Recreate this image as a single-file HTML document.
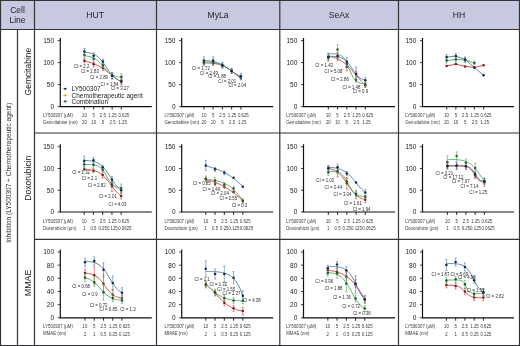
<!DOCTYPE html>
<html><head><meta charset="utf-8"><style>
html,body{margin:0;padding:0;background:#fff;width:520px;height:346px;overflow:hidden}
svg{display:block;filter:blur(0.3px)}
text{font-family:"Liberation Sans",sans-serif}
</style></head><body>
<svg width="520" height="346" viewBox="0 0 520 346">
<rect x="0" y="0" width="520" height="29.5" fill="#c7c9e1"/>
<path d="M60.3,38.1 V106.6 H151.8" fill="none" stroke="#111" stroke-width="1.2"/>
<line x1="57.699999999999996" y1="106.60" x2="60.3" y2="106.60" stroke="#111" stroke-width="0.8"/>
<text x="54.099999999999994" y="108.95" text-anchor="end" font-size="6.5" fill="#222">0</text>
<line x1="57.699999999999996" y1="84.60" x2="60.3" y2="84.60" stroke="#111" stroke-width="0.8"/>
<text x="54.099999999999994" y="86.95" text-anchor="end" font-size="6.5" fill="#222">50</text>
<line x1="57.699999999999996" y1="62.60" x2="60.3" y2="62.60" stroke="#111" stroke-width="0.8"/>
<text x="54.099999999999994" y="64.95" text-anchor="end" font-size="6.5" fill="#222">100</text>
<line x1="57.699999999999996" y1="40.60" x2="60.3" y2="40.60" stroke="#111" stroke-width="0.8"/>
<text x="54.099999999999994" y="42.95" text-anchor="end" font-size="6.5" fill="#222">150</text>
<line x1="84.40" y1="106.6" x2="84.40" y2="109.5" stroke="#111" stroke-width="0.9"/>
<line x1="93.65" y1="106.6" x2="93.65" y2="109.5" stroke="#111" stroke-width="0.9"/>
<line x1="102.90" y1="106.6" x2="102.90" y2="109.5" stroke="#111" stroke-width="0.9"/>
<line x1="112.15" y1="106.6" x2="112.15" y2="109.5" stroke="#111" stroke-width="0.9"/>
<line x1="121.40" y1="106.6" x2="121.40" y2="109.5" stroke="#111" stroke-width="0.9"/>
<text transform="translate(43.00,117.20) scale(0.877,1)" font-size="5.0" fill="#383838">LY500307 (µM)</text>
<text transform="translate(43.00,124.20) scale(0.877,1)" font-size="5.0" fill="#383838">Gemcitabine (nm)</text>
<text transform="translate(84.40,117.20) scale(0.95,1)" font-size="4.6" fill="#383838" text-anchor="middle">10</text>
<text transform="translate(84.40,124.40) scale(0.95,1)" font-size="4.6" fill="#383838" text-anchor="middle">20</text>
<text transform="translate(93.65,117.20) scale(0.95,1)" font-size="4.6" fill="#383838" text-anchor="middle">5</text>
<text transform="translate(93.65,124.40) scale(0.95,1)" font-size="4.6" fill="#383838" text-anchor="middle">10</text>
<text transform="translate(102.90,117.20) scale(0.95,1)" font-size="4.6" fill="#383838" text-anchor="middle">2.5</text>
<text transform="translate(102.90,124.40) scale(0.95,1)" font-size="4.6" fill="#383838" text-anchor="middle">5</text>
<text transform="translate(112.55,117.20) scale(0.95,1)" font-size="4.6" fill="#383838" text-anchor="middle">1.25</text>
<text transform="translate(112.55,124.40) scale(0.95,1)" font-size="4.6" fill="#383838" text-anchor="middle">2.5</text>
<text transform="translate(118.40,117.20) scale(0.95,1)" font-size="4.6" fill="#383838">0.625</text>
<text transform="translate(118.40,124.40) scale(0.95,1)" font-size="4.6" fill="#383838">1.25</text>
<path d="M84.40,61.14 L85.33,61.31 L86.25,61.50 L87.18,61.70 L88.10,61.93 L89.03,62.16 L89.95,62.42 L90.88,62.70 L91.80,63.00 L92.73,63.32 L93.65,63.66 L94.58,64.03 L95.50,64.43 L96.43,64.85 L97.35,65.29 L98.28,65.77 L99.20,66.27 L100.12,66.79 L101.05,67.35 L101.98,67.92 L102.90,68.53 L103.83,69.15 L104.75,69.80 L105.68,70.46 L106.60,71.15 L107.53,71.85 L108.45,72.56 L109.38,73.28 L110.30,74.00 L111.23,74.73 L112.15,75.46 L113.08,76.18 L114.00,76.90 L114.93,77.60 L115.85,78.30 L116.78,78.97 L117.70,79.63 L118.62,80.27 L119.55,80.89 L120.47,81.48 L121.40,82.05" fill="none" stroke="#d03a34" stroke-width="0.9"/>
<path d="M84.40,58.84 V62.84 M83.40,58.84 h2 M83.40,62.84 h2" stroke="#d03a34" stroke-width="0.6" fill="none"/>
<circle cx="84.40" cy="60.84" r="1.25" fill="#7a1a22"/>
<path d="M93.65,61.86 V66.86 M92.65,61.86 h2 M92.65,66.86 h2" stroke="#d03a34" stroke-width="0.6" fill="none"/>
<circle cx="93.65" cy="64.36" r="1.25" fill="#7a1a22"/>
<path d="M102.90,65.38 V70.38 M101.90,65.38 h2 M101.90,70.38 h2" stroke="#d03a34" stroke-width="0.6" fill="none"/>
<circle cx="102.90" cy="67.88" r="1.25" fill="#7a1a22"/>
<path d="M112.15,72.80 V78.80 M111.15,72.80 h2 M111.15,78.80 h2" stroke="#d03a34" stroke-width="0.6" fill="none"/>
<circle cx="112.15" cy="75.80" r="1.25" fill="#7a1a22"/>
<path d="M121.40,78.96 V84.96 M120.40,78.96 h2 M120.40,84.96 h2" stroke="#d03a34" stroke-width="0.6" fill="none"/>
<circle cx="121.40" cy="81.96" r="1.25" fill="#7a1a22"/>
<path d="M84.40,55.85 L85.33,55.93 L86.25,56.03 L87.18,56.14 L88.10,56.28 L89.03,56.45 L89.95,56.66 L90.88,56.90 L91.80,57.19 L92.73,57.53 L93.65,57.93 L94.58,58.40 L95.50,58.94 L96.43,59.56 L97.35,60.27 L98.28,61.06 L99.20,61.93 L100.12,62.88 L101.05,63.89 L101.98,64.95 L102.90,66.05 L103.83,67.15 L104.75,68.25 L105.68,69.31 L106.60,70.33 L107.53,71.28 L108.45,72.15 L109.38,72.94 L110.30,73.65 L111.23,74.27 L112.15,74.81 L113.08,75.28 L114.00,75.68 L114.93,76.02 L115.85,76.31 L116.78,76.55 L117.70,76.76 L118.62,76.93 L119.55,77.07 L120.47,77.19 L121.40,77.28" fill="none" stroke="#48ac58" stroke-width="0.9"/>
<path d="M84.40,52.62 V57.62 M83.40,52.62 h2 M83.40,57.62 h2" stroke="#48ac58" stroke-width="0.6" fill="none"/>
<circle cx="84.40" cy="55.12" r="1.25" fill="#1e5a30"/>
<path d="M93.65,56.08 V62.08 M92.65,56.08 h2 M92.65,62.08 h2" stroke="#48ac58" stroke-width="0.6" fill="none"/>
<circle cx="93.65" cy="59.08" r="1.25" fill="#1e5a30"/>
<path d="M102.90,62.74 V67.74 M101.90,62.74 h2 M101.90,67.74 h2" stroke="#48ac58" stroke-width="0.6" fill="none"/>
<circle cx="102.90" cy="65.24" r="1.25" fill="#1e5a30"/>
<path d="M112.15,72.80 V78.80 M111.15,72.80 h2 M111.15,78.80 h2" stroke="#48ac58" stroke-width="0.6" fill="none"/>
<circle cx="112.15" cy="75.80" r="1.25" fill="#1e5a30"/>
<path d="M121.40,73.68 V79.68 M120.40,73.68 h2 M120.40,79.68 h2" stroke="#48ac58" stroke-width="0.6" fill="none"/>
<circle cx="121.40" cy="76.68" r="1.25" fill="#1e5a30"/>
<path d="M84.40,52.29 L85.33,52.38 L86.25,52.47 L87.18,52.59 L88.10,52.73 L89.03,52.89 L89.95,53.09 L90.88,53.32 L91.80,53.59 L92.73,53.90 L93.65,54.27 L94.58,54.70 L95.50,55.20 L96.43,55.77 L97.35,56.43 L98.28,57.17 L99.20,58.01 L100.12,58.94 L101.05,59.97 L101.98,61.09 L102.90,62.30 L103.83,63.58 L104.75,64.91 L105.68,66.29 L106.60,67.68 L107.53,69.07 L108.45,70.43 L109.38,71.75 L110.30,73.00 L111.23,74.17 L112.15,75.26 L113.08,76.25 L114.00,77.14 L114.93,77.94 L115.85,78.65 L116.78,79.27 L117.70,79.81 L118.62,80.28 L119.55,80.69 L120.47,81.04 L121.40,81.33" fill="none" stroke="#4777a6" stroke-width="0.9"/>
<path d="M84.40,48.38 V54.38 M83.40,48.38 h2 M83.40,54.38 h2" stroke="#4777a6" stroke-width="0.6" fill="none"/>
<circle cx="84.40" cy="51.38" r="1.25" fill="#1b2740"/>
<path d="M93.65,52.69 V58.69 M92.65,52.69 h2 M92.65,58.69 h2" stroke="#4777a6" stroke-width="0.6" fill="none"/>
<circle cx="93.65" cy="55.69" r="1.25" fill="#1b2740"/>
<path d="M102.90,59.00 V64.00 M101.90,59.00 h2 M101.90,64.00 h2" stroke="#4777a6" stroke-width="0.6" fill="none"/>
<circle cx="102.90" cy="61.50" r="1.25" fill="#1b2740"/>
<path d="M112.15,72.80 V78.80 M111.15,72.80 h2 M111.15,78.80 h2" stroke="#4777a6" stroke-width="0.6" fill="none"/>
<circle cx="112.15" cy="75.80" r="1.25" fill="#1b2740"/>
<path d="M121.40,78.08 V84.08 M120.40,78.08 h2 M120.40,84.08 h2" stroke="#4777a6" stroke-width="0.6" fill="none"/>
<circle cx="121.40" cy="81.08" r="1.25" fill="#1b2740"/>
<text transform="translate(74.00,67.50) scale(0.84,1)" font-size="5.2" fill="#2a2a2a">CI = 2.2</text>
<text transform="translate(81.00,72.70) scale(0.84,1)" font-size="5.2" fill="#2a2a2a">CI = 2.83</text>
<text transform="translate(90.20,78.50) scale(0.84,1)" font-size="5.2" fill="#2a2a2a">CI = 2.89</text>
<text transform="translate(100.60,85.80) scale(0.84,1)" font-size="5.2" fill="#2a2a2a">CI = 1.84</text>
<text transform="translate(111.00,90.30) scale(0.84,1)" font-size="5.2" fill="#2a2a2a">CI = 3.27</text>
<path d="M181.7,38.1 V106.6 H273.2" fill="none" stroke="#111" stroke-width="1.2"/>
<line x1="179.1" y1="106.60" x2="181.7" y2="106.60" stroke="#111" stroke-width="0.8"/>
<text x="175.5" y="108.95" text-anchor="end" font-size="6.5" fill="#222">0</text>
<line x1="179.1" y1="84.60" x2="181.7" y2="84.60" stroke="#111" stroke-width="0.8"/>
<text x="175.5" y="86.95" text-anchor="end" font-size="6.5" fill="#222">50</text>
<line x1="179.1" y1="62.60" x2="181.7" y2="62.60" stroke="#111" stroke-width="0.8"/>
<text x="175.5" y="64.95" text-anchor="end" font-size="6.5" fill="#222">100</text>
<line x1="179.1" y1="40.60" x2="181.7" y2="40.60" stroke="#111" stroke-width="0.8"/>
<text x="175.5" y="42.95" text-anchor="end" font-size="6.5" fill="#222">150</text>
<line x1="203.90" y1="106.6" x2="203.90" y2="109.5" stroke="#111" stroke-width="0.9"/>
<line x1="213.15" y1="106.6" x2="213.15" y2="109.5" stroke="#111" stroke-width="0.9"/>
<line x1="222.40" y1="106.6" x2="222.40" y2="109.5" stroke="#111" stroke-width="0.9"/>
<line x1="231.65" y1="106.6" x2="231.65" y2="109.5" stroke="#111" stroke-width="0.9"/>
<line x1="240.90" y1="106.6" x2="240.90" y2="109.5" stroke="#111" stroke-width="0.9"/>
<text transform="translate(164.40,117.20) scale(0.877,1)" font-size="5.0" fill="#383838">LY500307 (µM)</text>
<text transform="translate(164.40,124.20) scale(0.877,1)" font-size="5.0" fill="#383838">Gemcitabine (nm)</text>
<text transform="translate(203.90,117.20) scale(0.95,1)" font-size="4.6" fill="#383838" text-anchor="middle">10</text>
<text transform="translate(203.90,124.40) scale(0.95,1)" font-size="4.6" fill="#383838" text-anchor="middle">20</text>
<text transform="translate(213.15,117.20) scale(0.95,1)" font-size="4.6" fill="#383838" text-anchor="middle">5</text>
<text transform="translate(213.15,124.40) scale(0.95,1)" font-size="4.6" fill="#383838" text-anchor="middle">10</text>
<text transform="translate(222.40,117.20) scale(0.95,1)" font-size="4.6" fill="#383838" text-anchor="middle">2.5</text>
<text transform="translate(222.40,124.40) scale(0.95,1)" font-size="4.6" fill="#383838" text-anchor="middle">5</text>
<text transform="translate(232.05,117.20) scale(0.95,1)" font-size="4.6" fill="#383838" text-anchor="middle">1.25</text>
<text transform="translate(232.05,124.40) scale(0.95,1)" font-size="4.6" fill="#383838" text-anchor="middle">2.5</text>
<text transform="translate(237.90,117.20) scale(0.95,1)" font-size="4.6" fill="#383838">0.625</text>
<text transform="translate(237.90,124.40) scale(0.95,1)" font-size="4.6" fill="#383838">1.25</text>
<path d="M203.90,62.82 L204.83,62.85 L205.75,62.88 L206.68,62.92 L207.60,62.96 L208.53,63.01 L209.45,63.07 L210.38,63.13 L211.30,63.21 L212.22,63.30 L213.15,63.39 L214.08,63.51 L215.00,63.64 L215.93,63.78 L216.85,63.95 L217.78,64.14 L218.70,64.35 L219.62,64.59 L220.55,64.86 L221.47,65.16 L222.40,65.50 L223.33,65.88 L224.25,66.29 L225.18,66.75 L226.10,67.24 L227.03,67.78 L227.95,68.36 L228.88,68.97 L229.80,69.62 L230.72,70.30 L231.65,71.01 L232.58,71.74 L233.50,72.48 L234.43,73.23 L235.35,73.97 L236.28,74.70 L237.20,75.42 L238.12,76.11 L239.05,76.77 L239.97,77.40 L240.90,77.99" fill="none" stroke="#d03a34" stroke-width="0.9"/>
<path d="M203.90,61.04 V65.04 M202.90,61.04 h2 M202.90,65.04 h2" stroke="#d03a34" stroke-width="0.6" fill="none"/>
<circle cx="203.90" cy="63.04" r="1.25" fill="#7a1a22"/>
<path d="M213.15,61.04 V65.04 M212.15,61.04 h2 M212.15,65.04 h2" stroke="#d03a34" stroke-width="0.6" fill="none"/>
<circle cx="213.15" cy="63.04" r="1.25" fill="#7a1a22"/>
<path d="M222.40,63.68 V67.68 M221.40,63.68 h2 M221.40,67.68 h2" stroke="#d03a34" stroke-width="0.6" fill="none"/>
<circle cx="222.40" cy="65.68" r="1.25" fill="#7a1a22"/>
<path d="M231.65,68.96 V72.96 M230.65,68.96 h2 M230.65,72.96 h2" stroke="#d03a34" stroke-width="0.6" fill="none"/>
<circle cx="231.65" cy="70.96" r="1.25" fill="#7a1a22"/>
<path d="M240.90,76.00 V80.00 M239.90,76.00 h2 M239.90,80.00 h2" stroke="#d03a34" stroke-width="0.6" fill="none"/>
<circle cx="240.90" cy="78.00" r="1.25" fill="#7a1a22"/>
<path d="M203.90,61.91 L204.83,61.94 L205.75,61.98 L206.68,62.02 L207.60,62.07 L208.53,62.12 L209.45,62.19 L210.38,62.26 L211.30,62.35 L212.22,62.45 L213.15,62.56 L214.08,62.69 L215.00,62.84 L215.93,63.01 L216.85,63.21 L217.78,63.43 L218.70,63.68 L219.62,63.97 L220.55,64.29 L221.47,64.64 L222.40,65.04 L223.33,65.47 L224.25,65.95 L225.18,66.47 L226.10,67.03 L227.03,67.63 L227.95,68.26 L228.88,68.93 L229.80,69.61 L230.72,70.32 L231.65,71.03 L232.58,71.74 L233.50,72.45 L234.43,73.14 L235.35,73.81 L236.28,74.45 L237.20,75.06 L238.12,75.63 L239.05,76.17 L239.97,76.66 L240.90,77.10" fill="none" stroke="#48ac58" stroke-width="0.9"/>
<path d="M203.90,59.16 V65.16 M202.90,59.16 h2 M202.90,65.16 h2" stroke="#48ac58" stroke-width="0.6" fill="none"/>
<circle cx="203.90" cy="62.16" r="1.25" fill="#1e5a30"/>
<path d="M213.15,59.16 V65.16 M212.15,59.16 h2 M212.15,65.16 h2" stroke="#48ac58" stroke-width="0.6" fill="none"/>
<circle cx="213.15" cy="62.16" r="1.25" fill="#1e5a30"/>
<path d="M222.40,63.24 V67.24 M221.40,63.24 h2 M221.40,67.24 h2" stroke="#48ac58" stroke-width="0.6" fill="none"/>
<circle cx="222.40" cy="65.24" r="1.25" fill="#1e5a30"/>
<path d="M231.65,68.96 V72.96 M230.65,68.96 h2 M230.65,72.96 h2" stroke="#48ac58" stroke-width="0.6" fill="none"/>
<circle cx="231.65" cy="70.96" r="1.25" fill="#1e5a30"/>
<path d="M240.90,75.12 V79.12 M239.90,75.12 h2 M239.90,79.12 h2" stroke="#48ac58" stroke-width="0.6" fill="none"/>
<circle cx="240.90" cy="77.12" r="1.25" fill="#1e5a30"/>
<path d="M203.90,60.46 L204.83,60.51 L205.75,60.57 L206.68,60.64 L207.60,60.72 L208.53,60.81 L209.45,60.91 L210.38,61.03 L211.30,61.17 L212.22,61.32 L213.15,61.49 L214.08,61.69 L215.00,61.91 L215.93,62.16 L216.85,62.44 L217.78,62.75 L218.70,63.09 L219.62,63.48 L220.55,63.89 L221.47,64.35 L222.40,64.84 L223.33,65.37 L224.25,65.93 L225.18,66.53 L226.10,67.15 L227.03,67.80 L227.95,68.46 L228.88,69.13 L229.80,69.81 L230.72,70.48 L231.65,71.14 L232.58,71.79 L233.50,72.41 L234.43,73.01 L235.35,73.57 L236.28,74.10 L237.20,74.59 L238.12,75.04 L239.05,75.46 L239.97,75.84 L240.90,76.18" fill="none" stroke="#4777a6" stroke-width="0.9"/>
<path d="M203.90,56.84 V64.84 M202.90,56.84 h2 M202.90,64.84 h2" stroke="#4777a6" stroke-width="0.6" fill="none"/>
<circle cx="203.90" cy="60.84" r="1.25" fill="#1b2740"/>
<path d="M213.15,56.84 V64.84 M212.15,56.84 h2 M212.15,64.84 h2" stroke="#4777a6" stroke-width="0.6" fill="none"/>
<circle cx="213.15" cy="60.84" r="1.25" fill="#1b2740"/>
<path d="M222.40,62.24 V68.24 M221.40,62.24 h2 M221.40,68.24 h2" stroke="#4777a6" stroke-width="0.6" fill="none"/>
<circle cx="222.40" cy="65.24" r="1.25" fill="#1b2740"/>
<path d="M231.65,68.46 V73.46 M230.65,68.46 h2 M230.65,73.46 h2" stroke="#4777a6" stroke-width="0.6" fill="none"/>
<circle cx="231.65" cy="70.96" r="1.25" fill="#1b2740"/>
<path d="M240.90,73.24 V79.24 M239.90,73.24 h2 M239.90,79.24 h2" stroke="#4777a6" stroke-width="0.6" fill="none"/>
<circle cx="240.90" cy="76.24" r="1.25" fill="#1b2740"/>
<text transform="translate(192.00,69.80) scale(0.84,1)" font-size="5.2" fill="#2a2a2a">CI = 1.72</text>
<text transform="translate(200.10,74.50) scale(0.84,1)" font-size="5.2" fill="#2a2a2a">CI = 2.49</text>
<text transform="translate(208.20,77.90) scale(0.84,1)" font-size="5.2" fill="#2a2a2a">CI = 1.88</text>
<text transform="translate(218.30,82.90) scale(0.84,1)" font-size="5.2" fill="#2a2a2a">CI = 2.01</text>
<text transform="translate(228.40,87.30) scale(0.84,1)" font-size="5.2" fill="#2a2a2a">CI = 2.04</text>
<path d="M303.5,38.1 V106.6 H395.0" fill="none" stroke="#111" stroke-width="1.2"/>
<line x1="300.9" y1="106.60" x2="303.5" y2="106.60" stroke="#111" stroke-width="0.8"/>
<text x="297.3" y="108.95" text-anchor="end" font-size="6.5" fill="#222">0</text>
<line x1="300.9" y1="84.60" x2="303.5" y2="84.60" stroke="#111" stroke-width="0.8"/>
<text x="297.3" y="86.95" text-anchor="end" font-size="6.5" fill="#222">50</text>
<line x1="300.9" y1="62.60" x2="303.5" y2="62.60" stroke="#111" stroke-width="0.8"/>
<text x="297.3" y="64.95" text-anchor="end" font-size="6.5" fill="#222">100</text>
<line x1="300.9" y1="40.60" x2="303.5" y2="40.60" stroke="#111" stroke-width="0.8"/>
<text x="297.3" y="42.95" text-anchor="end" font-size="6.5" fill="#222">150</text>
<line x1="328.30" y1="106.6" x2="328.30" y2="109.5" stroke="#111" stroke-width="0.9"/>
<line x1="337.55" y1="106.6" x2="337.55" y2="109.5" stroke="#111" stroke-width="0.9"/>
<line x1="346.80" y1="106.6" x2="346.80" y2="109.5" stroke="#111" stroke-width="0.9"/>
<line x1="356.05" y1="106.6" x2="356.05" y2="109.5" stroke="#111" stroke-width="0.9"/>
<line x1="365.30" y1="106.6" x2="365.30" y2="109.5" stroke="#111" stroke-width="0.9"/>
<text transform="translate(286.20,117.20) scale(0.877,1)" font-size="5.0" fill="#383838">LY500307 (µM)</text>
<text transform="translate(286.20,124.20) scale(0.877,1)" font-size="5.0" fill="#383838">Gemcitabine (nm)</text>
<text transform="translate(328.30,117.20) scale(0.95,1)" font-size="4.6" fill="#383838" text-anchor="middle">10</text>
<text transform="translate(328.30,124.40) scale(0.95,1)" font-size="4.6" fill="#383838" text-anchor="middle">20</text>
<text transform="translate(337.55,117.20) scale(0.95,1)" font-size="4.6" fill="#383838" text-anchor="middle">5</text>
<text transform="translate(337.55,124.40) scale(0.95,1)" font-size="4.6" fill="#383838" text-anchor="middle">10</text>
<text transform="translate(346.80,117.20) scale(0.95,1)" font-size="4.6" fill="#383838" text-anchor="middle">2.5</text>
<text transform="translate(346.80,124.40) scale(0.95,1)" font-size="4.6" fill="#383838" text-anchor="middle">5</text>
<text transform="translate(356.45,117.20) scale(0.95,1)" font-size="4.6" fill="#383838" text-anchor="middle">1.25</text>
<text transform="translate(356.45,124.40) scale(0.95,1)" font-size="4.6" fill="#383838" text-anchor="middle">2.5</text>
<text transform="translate(362.30,117.20) scale(0.95,1)" font-size="4.6" fill="#383838">0.625</text>
<text transform="translate(362.30,124.40) scale(0.95,1)" font-size="4.6" fill="#383838">1.25</text>
<path d="M328.30,55.98 L329.23,56.16 L330.15,56.37 L331.07,56.59 L332.00,56.83 L332.93,57.10 L333.85,57.39 L334.78,57.71 L335.70,58.05 L336.62,58.43 L337.55,58.84 L338.48,59.28 L339.40,59.76 L340.32,60.27 L341.25,60.82 L342.18,61.42 L343.10,62.05 L344.03,62.73 L344.95,63.45 L345.88,64.21 L346.80,65.02 L347.73,65.87 L348.65,66.76 L349.57,67.68 L350.50,68.65 L351.43,69.64 L352.35,70.67 L353.28,71.72 L354.20,72.79 L355.12,73.87 L356.05,74.97 L356.98,76.07 L357.90,77.16 L358.82,78.25 L359.75,79.33 L360.68,80.39 L361.60,81.42 L362.53,82.43 L363.45,83.41 L364.38,84.35 L365.30,85.26" fill="none" stroke="#d03a34" stroke-width="0.9"/>
<path d="M328.30,53.10 V61.10 M327.30,53.10 h2 M327.30,61.10 h2" stroke="#d03a34" stroke-width="0.6" fill="none"/>
<circle cx="328.30" cy="57.10" r="1.25" fill="#7a1a22"/>
<path d="M337.55,52.44 V60.44 M336.55,52.44 h2 M336.55,60.44 h2" stroke="#d03a34" stroke-width="0.6" fill="none"/>
<circle cx="337.55" cy="56.44" r="1.25" fill="#7a1a22"/>
<path d="M346.80,63.00 V71.00 M345.80,63.00 h2 M345.80,71.00 h2" stroke="#d03a34" stroke-width="0.6" fill="none"/>
<circle cx="346.80" cy="67.00" r="1.25" fill="#7a1a22"/>
<path d="M356.05,71.04 V77.04 M355.05,71.04 h2 M355.05,77.04 h2" stroke="#d03a34" stroke-width="0.6" fill="none"/>
<circle cx="356.05" cy="74.04" r="1.25" fill="#7a1a22"/>
<path d="M365.30,83.48 V87.48 M364.30,83.48 h2 M364.30,87.48 h2" stroke="#d03a34" stroke-width="0.6" fill="none"/>
<circle cx="365.30" cy="85.48" r="1.25" fill="#7a1a22"/>
<path d="M328.30,53.68 L329.23,53.69 L330.15,53.70 L331.07,53.72 L332.00,53.75 L332.93,53.78 L333.85,53.83 L334.78,53.90 L335.70,53.99 L336.62,54.11 L337.55,54.27 L338.48,54.49 L339.40,54.78 L340.32,55.16 L341.25,55.67 L342.18,56.34 L343.10,57.19 L344.03,58.27 L344.95,59.61 L345.88,61.21 L346.80,63.08 L347.73,65.18 L348.65,67.44 L349.57,69.76 L350.50,72.03 L351.43,74.16 L352.35,76.07 L353.28,77.72 L354.20,79.09 L355.12,80.21 L356.05,81.09 L356.98,81.78 L357.90,82.31 L358.82,82.72 L359.75,83.02 L360.68,83.25 L361.60,83.42 L362.53,83.54 L363.45,83.63 L364.38,83.70 L365.30,83.75" fill="none" stroke="#48ac58" stroke-width="0.9"/>
<path d="M328.30,54.76 V60.76 M327.30,54.76 h2 M327.30,60.76 h2" stroke="#48ac58" stroke-width="0.6" fill="none"/>
<circle cx="328.30" cy="57.76" r="1.25" fill="#1e5a30"/>
<path d="M337.55,44.62 V54.62 M336.55,44.62 h2 M336.55,54.62 h2" stroke="#48ac58" stroke-width="0.6" fill="none"/>
<circle cx="337.55" cy="49.62" r="1.25" fill="#1e5a30"/>
<path d="M346.80,60.92 V66.92 M345.80,60.92 h2 M345.80,66.92 h2" stroke="#48ac58" stroke-width="0.6" fill="none"/>
<circle cx="346.80" cy="63.92" r="1.25" fill="#1e5a30"/>
<path d="M356.05,77.98 V81.98 M355.05,77.98 h2 M355.05,81.98 h2" stroke="#48ac58" stroke-width="0.6" fill="none"/>
<circle cx="356.05" cy="79.98" r="1.25" fill="#1e5a30"/>
<path d="M365.30,82.60 V86.60 M364.30,82.60 h2 M364.30,86.60 h2" stroke="#48ac58" stroke-width="0.6" fill="none"/>
<circle cx="365.30" cy="84.60" r="1.25" fill="#1e5a30"/>
<path d="M328.30,56.22 L329.23,56.24 L330.15,56.27 L331.07,56.30 L332.00,56.33 L332.93,56.38 L333.85,56.44 L334.78,56.51 L335.70,56.59 L336.62,56.70 L337.55,56.84 L338.48,57.01 L339.40,57.22 L340.32,57.47 L341.25,57.79 L342.18,58.17 L343.10,58.62 L344.03,59.17 L344.95,59.83 L345.88,60.59 L346.80,61.47 L347.73,62.48 L348.65,63.60 L349.57,64.83 L350.50,66.15 L351.43,67.52 L352.35,68.93 L353.28,70.33 L354.20,71.68 L355.12,72.97 L356.05,74.15 L356.98,75.23 L357.90,76.18 L358.82,77.02 L359.75,77.73 L360.68,78.34 L361.60,78.85 L362.53,79.28 L363.45,79.63 L364.38,79.91 L365.30,80.15" fill="none" stroke="#4777a6" stroke-width="0.9"/>
<path d="M328.30,53.88 V59.88 M327.30,53.88 h2 M327.30,59.88 h2" stroke="#4777a6" stroke-width="0.6" fill="none"/>
<circle cx="328.30" cy="56.88" r="1.25" fill="#1b2740"/>
<path d="M337.55,53.00 V59.00 M336.55,53.00 h2 M336.55,59.00 h2" stroke="#4777a6" stroke-width="0.6" fill="none"/>
<circle cx="337.55" cy="56.00" r="1.25" fill="#1b2740"/>
<path d="M346.80,57.72 V65.72 M345.80,57.72 h2 M345.80,65.72 h2" stroke="#4777a6" stroke-width="0.6" fill="none"/>
<circle cx="346.80" cy="61.72" r="1.25" fill="#1b2740"/>
<path d="M356.05,67.04 V81.04 M355.05,67.04 h2 M355.05,81.04 h2" stroke="#4777a6" stroke-width="0.6" fill="none"/>
<circle cx="356.05" cy="74.04" r="1.25" fill="#1b2740"/>
<path d="M365.30,77.70 V82.70 M364.30,77.70 h2 M364.30,82.70 h2" stroke="#4777a6" stroke-width="0.6" fill="none"/>
<circle cx="365.30" cy="80.20" r="1.25" fill="#1b2740"/>
<text transform="translate(315.20,67.20) scale(0.84,1)" font-size="5.2" fill="#2a2a2a">CI = 1.43</text>
<text transform="translate(324.60,72.80) scale(0.84,1)" font-size="5.2" fill="#2a2a2a">CI = 5.08</text>
<text transform="translate(331.00,81.20) scale(0.84,1)" font-size="5.2" fill="#2a2a2a">CI = 2.86</text>
<text transform="translate(342.60,88.60) scale(0.84,1)" font-size="5.2" fill="#2a2a2a">CI = 1.48</text>
<text transform="translate(352.70,93.20) scale(0.84,1)" font-size="5.2" fill="#2a2a2a">CI = 0.9</text>
<path d="M422.5,38.1 V106.6 H514.0" fill="none" stroke="#111" stroke-width="1.2"/>
<line x1="419.9" y1="106.60" x2="422.5" y2="106.60" stroke="#111" stroke-width="0.8"/>
<text x="416.3" y="108.95" text-anchor="end" font-size="6.5" fill="#222">0</text>
<line x1="419.9" y1="84.60" x2="422.5" y2="84.60" stroke="#111" stroke-width="0.8"/>
<text x="416.3" y="86.95" text-anchor="end" font-size="6.5" fill="#222">50</text>
<line x1="419.9" y1="62.60" x2="422.5" y2="62.60" stroke="#111" stroke-width="0.8"/>
<text x="416.3" y="64.95" text-anchor="end" font-size="6.5" fill="#222">100</text>
<line x1="419.9" y1="40.60" x2="422.5" y2="40.60" stroke="#111" stroke-width="0.8"/>
<text x="416.3" y="42.95" text-anchor="end" font-size="6.5" fill="#222">150</text>
<line x1="446.60" y1="106.6" x2="446.60" y2="109.5" stroke="#111" stroke-width="0.9"/>
<line x1="455.85" y1="106.6" x2="455.85" y2="109.5" stroke="#111" stroke-width="0.9"/>
<line x1="465.10" y1="106.6" x2="465.10" y2="109.5" stroke="#111" stroke-width="0.9"/>
<line x1="474.35" y1="106.6" x2="474.35" y2="109.5" stroke="#111" stroke-width="0.9"/>
<line x1="483.60" y1="106.6" x2="483.60" y2="109.5" stroke="#111" stroke-width="0.9"/>
<text transform="translate(405.20,117.20) scale(0.877,1)" font-size="5.0" fill="#383838">LY500307 (µM)</text>
<text transform="translate(405.20,124.20) scale(0.877,1)" font-size="5.0" fill="#383838">Gemcitabine (nm)</text>
<text transform="translate(446.60,117.20) scale(0.95,1)" font-size="4.6" fill="#383838" text-anchor="middle">10</text>
<text transform="translate(446.60,124.40) scale(0.95,1)" font-size="4.6" fill="#383838" text-anchor="middle">20</text>
<text transform="translate(455.85,117.20) scale(0.95,1)" font-size="4.6" fill="#383838" text-anchor="middle">5</text>
<text transform="translate(455.85,124.40) scale(0.95,1)" font-size="4.6" fill="#383838" text-anchor="middle">10</text>
<text transform="translate(465.10,117.20) scale(0.95,1)" font-size="4.6" fill="#383838" text-anchor="middle">2.5</text>
<text transform="translate(465.10,124.40) scale(0.95,1)" font-size="4.6" fill="#383838" text-anchor="middle">5</text>
<text transform="translate(474.75,117.20) scale(0.95,1)" font-size="4.6" fill="#383838" text-anchor="middle">1.25</text>
<text transform="translate(474.75,124.40) scale(0.95,1)" font-size="4.6" fill="#383838" text-anchor="middle">2.5</text>
<text transform="translate(480.60,117.20) scale(0.95,1)" font-size="4.6" fill="#383838">0.625</text>
<text transform="translate(480.60,124.40) scale(0.95,1)" font-size="4.6" fill="#383838">1.25</text>
<path d="M446.60,65.99 L455.85,64.10 L465.10,66.38 L474.35,67.44 L483.60,65.24" fill="none" stroke="#d03a34" stroke-width="0.9"/>
<circle cx="446.60" cy="65.99" r="1.25" fill="#7a1a22"/>
<circle cx="455.85" cy="64.10" r="1.25" fill="#7a1a22"/>
<circle cx="465.10" cy="66.38" r="1.25" fill="#7a1a22"/>
<circle cx="474.35" cy="67.44" r="1.25" fill="#7a1a22"/>
<circle cx="483.60" cy="65.24" r="1.25" fill="#7a1a22"/>
<path d="M446.60,60.62 L455.85,59.52 L465.10,59.96 L474.35,62.91" fill="none" stroke="#48ac58" stroke-width="0.9"/>
<path d="M446.60,58.12 V63.12 M445.60,58.12 h2 M445.60,63.12 h2" stroke="#48ac58" stroke-width="0.6" fill="none"/>
<circle cx="446.60" cy="60.62" r="1.25" fill="#1e5a30"/>
<path d="M455.85,57.02 V62.02 M454.85,57.02 h2 M454.85,62.02 h2" stroke="#48ac58" stroke-width="0.6" fill="none"/>
<circle cx="455.85" cy="59.52" r="1.25" fill="#1e5a30"/>
<path d="M465.10,57.46 V62.46 M464.10,57.46 h2 M464.10,62.46 h2" stroke="#48ac58" stroke-width="0.6" fill="none"/>
<circle cx="465.10" cy="59.96" r="1.25" fill="#1e5a30"/>
<path d="M474.35,60.91 V64.91 M473.35,60.91 h2 M473.35,64.91 h2" stroke="#48ac58" stroke-width="0.6" fill="none"/>
<circle cx="474.35" cy="62.91" r="1.25" fill="#1e5a30"/>
<path d="M446.60,57.10 L455.85,56.00 L465.10,59.52 L474.35,67.44 L483.60,75.36" fill="none" stroke="#4777a6" stroke-width="0.9"/>
<path d="M446.60,54.60 V59.60 M445.60,54.60 h2 M445.60,59.60 h2" stroke="#4777a6" stroke-width="0.6" fill="none"/>
<circle cx="446.60" cy="57.10" r="1.25" fill="#1b2740"/>
<path d="M455.85,53.50 V58.50 M454.85,53.50 h2 M454.85,58.50 h2" stroke="#4777a6" stroke-width="0.6" fill="none"/>
<circle cx="455.85" cy="56.00" r="1.25" fill="#1b2740"/>
<path d="M465.10,57.02 V62.02 M464.10,57.02 h2 M464.10,62.02 h2" stroke="#4777a6" stroke-width="0.6" fill="none"/>
<circle cx="465.10" cy="59.52" r="1.25" fill="#1b2740"/>
<circle cx="474.35" cy="67.44" r="1.25" fill="#1b2740"/>
<circle cx="483.60" cy="75.36" r="1.25" fill="#1b2740"/>
<path d="M60.3,144.2 V212.0 H151.8" fill="none" stroke="#111" stroke-width="1.2"/>
<line x1="57.699999999999996" y1="212.00" x2="60.3" y2="212.00" stroke="#111" stroke-width="0.8"/>
<text x="54.099999999999994" y="214.35" text-anchor="end" font-size="6.5" fill="#222">0</text>
<line x1="57.699999999999996" y1="190.25" x2="60.3" y2="190.25" stroke="#111" stroke-width="0.8"/>
<text x="54.099999999999994" y="192.60" text-anchor="end" font-size="6.5" fill="#222">50</text>
<line x1="57.699999999999996" y1="168.50" x2="60.3" y2="168.50" stroke="#111" stroke-width="0.8"/>
<text x="54.099999999999994" y="170.85" text-anchor="end" font-size="6.5" fill="#222">100</text>
<line x1="57.699999999999996" y1="146.75" x2="60.3" y2="146.75" stroke="#111" stroke-width="0.8"/>
<text x="54.099999999999994" y="149.10" text-anchor="end" font-size="6.5" fill="#222">150</text>
<line x1="84.20" y1="212.0" x2="84.20" y2="214.9" stroke="#111" stroke-width="0.9"/>
<line x1="93.45" y1="212.0" x2="93.45" y2="214.9" stroke="#111" stroke-width="0.9"/>
<line x1="102.70" y1="212.0" x2="102.70" y2="214.9" stroke="#111" stroke-width="0.9"/>
<line x1="111.95" y1="212.0" x2="111.95" y2="214.9" stroke="#111" stroke-width="0.9"/>
<line x1="121.20" y1="212.0" x2="121.20" y2="214.9" stroke="#111" stroke-width="0.9"/>
<text transform="translate(43.00,222.60) scale(0.877,1)" font-size="5.0" fill="#383838">LY500307 (µM)</text>
<text transform="translate(43.00,229.60) scale(0.877,1)" font-size="5.0" fill="#383838">Doxorubicin (µm)</text>
<text transform="translate(84.20,222.60) scale(0.95,1)" font-size="4.6" fill="#383838" text-anchor="middle">10</text>
<text transform="translate(84.20,229.80) scale(0.95,1)" font-size="4.6" fill="#383838" text-anchor="middle">1</text>
<text transform="translate(93.45,222.60) scale(0.95,1)" font-size="4.6" fill="#383838" text-anchor="middle">5</text>
<text transform="translate(93.45,229.80) scale(0.95,1)" font-size="4.6" fill="#383838" text-anchor="middle">0.5</text>
<text transform="translate(102.70,222.60) scale(0.95,1)" font-size="4.6" fill="#383838" text-anchor="middle">2.5</text>
<text transform="translate(102.70,229.80) scale(0.95,1)" font-size="4.6" fill="#383838" text-anchor="middle">0.25</text>
<text transform="translate(112.35,222.60) scale(0.95,1)" font-size="4.6" fill="#383838" text-anchor="middle">1.25</text>
<text transform="translate(112.35,229.80) scale(0.95,1)" font-size="4.6" fill="#383838" text-anchor="middle">0.125</text>
<text transform="translate(118.20,222.60) scale(0.95,1)" font-size="4.6" fill="#383838">0.625</text>
<text transform="translate(118.20,229.80) scale(0.95,1)" font-size="4.6" fill="#383838">0.0625</text>
<path d="M84.20,169.14 L85.12,169.19 L86.05,169.26 L86.98,169.33 L87.90,169.42 L88.83,169.53 L89.75,169.65 L90.67,169.79 L91.60,169.95 L92.53,170.14 L93.45,170.36 L94.38,170.61 L95.30,170.90 L96.23,171.23 L97.15,171.61 L98.08,172.05 L99.00,172.54 L99.92,173.09 L100.85,173.72 L101.78,174.41 L102.70,175.18 L103.62,176.03 L104.55,176.95 L105.47,177.95 L106.40,179.01 L107.33,180.14 L108.25,181.31 L109.18,182.53 L110.10,183.77 L111.03,185.03 L111.95,186.28 L112.88,187.50 L113.80,188.69 L114.72,189.84 L115.65,190.92 L116.58,191.94 L117.50,192.89 L118.43,193.76 L119.35,194.56 L120.28,195.28 L121.20,195.92" fill="none" stroke="#d03a34" stroke-width="0.9"/>
<path d="M84.20,166.94 V170.94 M83.20,166.94 h2 M83.20,170.94 h2" stroke="#d03a34" stroke-width="0.6" fill="none"/>
<circle cx="84.20" cy="168.94" r="1.25" fill="#7a1a22"/>
<path d="M93.45,168.68 V172.68 M92.45,168.68 h2 M92.45,172.68 h2" stroke="#d03a34" stroke-width="0.6" fill="none"/>
<circle cx="93.45" cy="170.68" r="1.25" fill="#7a1a22"/>
<path d="M102.70,172.03 V178.03 M101.70,172.03 h2 M101.70,178.03 h2" stroke="#d03a34" stroke-width="0.6" fill="none"/>
<circle cx="102.70" cy="175.03" r="1.25" fill="#7a1a22"/>
<path d="M111.95,181.34 V191.34 M110.95,181.34 h2 M110.95,191.34 h2" stroke="#d03a34" stroke-width="0.6" fill="none"/>
<circle cx="111.95" cy="186.34" r="1.25" fill="#7a1a22"/>
<path d="M121.20,192.91 V198.91 M120.20,192.91 h2 M120.20,198.91 h2" stroke="#d03a34" stroke-width="0.6" fill="none"/>
<circle cx="121.20" cy="195.91" r="1.25" fill="#7a1a22"/>
<path d="M84.20,164.35 L85.12,164.36 L86.05,164.38 L86.98,164.39 L87.90,164.41 L88.83,164.44 L89.75,164.48 L90.67,164.53 L91.60,164.59 L92.53,164.67 L93.45,164.78 L94.38,164.92 L95.30,165.10 L96.23,165.33 L97.15,165.64 L98.08,166.02 L99.00,166.51 L99.92,167.11 L100.85,167.86 L101.78,168.77 L102.70,169.85 L103.62,171.10 L104.55,172.52 L105.47,174.06 L106.40,175.68 L107.33,177.33 L108.25,178.94 L109.18,180.46 L110.10,181.85 L111.03,183.08 L111.95,184.13 L112.88,185.01 L113.80,185.74 L114.72,186.33 L115.65,186.80 L116.58,187.17 L117.50,187.46 L118.43,187.68 L119.35,187.86 L120.28,187.99 L121.20,188.09" fill="none" stroke="#48ac58" stroke-width="0.9"/>
<path d="M84.20,160.15 V168.15 M83.20,160.15 h2 M83.20,168.15 h2" stroke="#48ac58" stroke-width="0.6" fill="none"/>
<circle cx="84.20" cy="164.15" r="1.25" fill="#1e5a30"/>
<path d="M93.45,162.02 V168.02 M92.45,162.02 h2 M92.45,168.02 h2" stroke="#48ac58" stroke-width="0.6" fill="none"/>
<circle cx="93.45" cy="165.02" r="1.25" fill="#1e5a30"/>
<path d="M102.70,167.81 V171.81 M101.70,167.81 h2 M101.70,171.81 h2" stroke="#48ac58" stroke-width="0.6" fill="none"/>
<circle cx="102.70" cy="169.81" r="1.25" fill="#1e5a30"/>
<path d="M111.95,181.16 V187.16 M110.95,181.16 h2 M110.95,187.16 h2" stroke="#48ac58" stroke-width="0.6" fill="none"/>
<circle cx="111.95" cy="184.16" r="1.25" fill="#1e5a30"/>
<path d="M121.20,184.07 V192.07 M120.20,184.07 h2 M120.20,192.07 h2" stroke="#48ac58" stroke-width="0.6" fill="none"/>
<circle cx="121.20" cy="188.07" r="1.25" fill="#1e5a30"/>
<path d="M84.20,160.29 L85.12,160.34 L86.05,160.40 L86.98,160.47 L87.90,160.55 L88.83,160.65 L89.75,160.76 L90.67,160.89 L91.60,161.05 L92.53,161.23 L93.45,161.45 L94.38,161.70 L95.30,162.00 L96.23,162.34 L97.15,162.74 L98.08,163.20 L99.00,163.72 L99.92,164.33 L100.85,165.01 L101.78,165.79 L102.70,166.66 L103.62,167.62 L104.55,168.68 L105.47,169.83 L106.40,171.07 L107.33,172.39 L108.25,173.77 L109.18,175.20 L110.10,176.66 L111.03,178.12 L111.95,179.57 L112.88,180.99 L113.80,182.35 L114.72,183.65 L115.65,184.86 L116.58,185.98 L117.50,187.01 L118.43,187.95 L119.35,188.78 L120.28,189.53 L121.20,190.19" fill="none" stroke="#4777a6" stroke-width="0.9"/>
<path d="M84.20,156.10 V166.10 M83.20,156.10 h2 M83.20,166.10 h2" stroke="#4777a6" stroke-width="0.6" fill="none"/>
<circle cx="84.20" cy="161.10" r="1.25" fill="#1b2740"/>
<path d="M93.45,157.24 V163.24 M92.45,157.24 h2 M92.45,163.24 h2" stroke="#4777a6" stroke-width="0.6" fill="none"/>
<circle cx="93.45" cy="160.24" r="1.25" fill="#1b2740"/>
<path d="M102.70,165.19 V169.19 M101.70,165.19 h2 M101.70,169.19 h2" stroke="#4777a6" stroke-width="0.6" fill="none"/>
<circle cx="102.70" cy="167.19" r="1.25" fill="#1b2740"/>
<path d="M111.95,176.38 V182.38 M110.95,176.38 h2 M110.95,182.38 h2" stroke="#4777a6" stroke-width="0.6" fill="none"/>
<circle cx="111.95" cy="179.38" r="1.25" fill="#1b2740"/>
<path d="M121.20,187.25 V193.25 M120.20,187.25 h2 M120.20,193.25 h2" stroke="#4777a6" stroke-width="0.6" fill="none"/>
<circle cx="121.20" cy="190.25" r="1.25" fill="#1b2740"/>
<text transform="translate(72.20,173.80) scale(0.84,1)" font-size="5.2" fill="#2a2a2a">CI = 1.32</text>
<text transform="translate(81.70,179.90) scale(0.84,1)" font-size="5.2" fill="#2a2a2a">CI = 2.1</text>
<text transform="translate(87.80,186.80) scale(0.84,1)" font-size="5.2" fill="#2a2a2a">CI = 2.82</text>
<text transform="translate(99.00,197.60) scale(0.84,1)" font-size="5.2" fill="#2a2a2a">CI = 2.01</text>
<text transform="translate(108.60,206.00) scale(0.84,1)" font-size="5.2" fill="#2a2a2a">CI = 4.03</text>
<path d="M181.7,144.2 V212.0 H273.2" fill="none" stroke="#111" stroke-width="1.2"/>
<line x1="179.1" y1="212.00" x2="181.7" y2="212.00" stroke="#111" stroke-width="0.8"/>
<text x="175.5" y="214.35" text-anchor="end" font-size="6.5" fill="#222">0</text>
<line x1="179.1" y1="190.25" x2="181.7" y2="190.25" stroke="#111" stroke-width="0.8"/>
<text x="175.5" y="192.60" text-anchor="end" font-size="6.5" fill="#222">50</text>
<line x1="179.1" y1="168.50" x2="181.7" y2="168.50" stroke="#111" stroke-width="0.8"/>
<text x="175.5" y="170.85" text-anchor="end" font-size="6.5" fill="#222">100</text>
<line x1="179.1" y1="146.75" x2="181.7" y2="146.75" stroke="#111" stroke-width="0.8"/>
<text x="175.5" y="149.10" text-anchor="end" font-size="6.5" fill="#222">150</text>
<line x1="205.80" y1="212.0" x2="205.80" y2="214.9" stroke="#111" stroke-width="0.9"/>
<line x1="215.05" y1="212.0" x2="215.05" y2="214.9" stroke="#111" stroke-width="0.9"/>
<line x1="224.30" y1="212.0" x2="224.30" y2="214.9" stroke="#111" stroke-width="0.9"/>
<line x1="233.55" y1="212.0" x2="233.55" y2="214.9" stroke="#111" stroke-width="0.9"/>
<line x1="242.80" y1="212.0" x2="242.80" y2="214.9" stroke="#111" stroke-width="0.9"/>
<text transform="translate(164.40,222.60) scale(0.877,1)" font-size="5.0" fill="#383838">LY500307 (µM)</text>
<text transform="translate(164.40,229.60) scale(0.877,1)" font-size="5.0" fill="#383838">Doxorubicin (µm)</text>
<text transform="translate(205.80,222.60) scale(0.95,1)" font-size="4.6" fill="#383838" text-anchor="middle">10</text>
<text transform="translate(205.80,229.80) scale(0.95,1)" font-size="4.6" fill="#383838" text-anchor="middle">1</text>
<text transform="translate(215.05,222.60) scale(0.95,1)" font-size="4.6" fill="#383838" text-anchor="middle">5</text>
<text transform="translate(215.05,229.80) scale(0.95,1)" font-size="4.6" fill="#383838" text-anchor="middle">0.5</text>
<text transform="translate(224.30,222.60) scale(0.95,1)" font-size="4.6" fill="#383838" text-anchor="middle">2.5</text>
<text transform="translate(224.30,229.80) scale(0.95,1)" font-size="4.6" fill="#383838" text-anchor="middle">0.25</text>
<text transform="translate(233.95,222.60) scale(0.95,1)" font-size="4.6" fill="#383838" text-anchor="middle">1.25</text>
<text transform="translate(233.95,229.80) scale(0.95,1)" font-size="4.6" fill="#383838" text-anchor="middle">0.125</text>
<text transform="translate(239.80,222.60) scale(0.95,1)" font-size="4.6" fill="#383838">0.625</text>
<text transform="translate(239.80,229.80) scale(0.95,1)" font-size="4.6" fill="#383838">0.0625</text>
<path d="M205.80,179.74 L206.73,179.95 L207.65,180.17 L208.58,180.41 L209.50,180.65 L210.43,180.91 L211.35,181.18 L212.28,181.47 L213.20,181.76 L214.12,182.08 L215.05,182.41 L215.98,182.75 L216.90,183.11 L217.83,183.49 L218.75,183.88 L219.68,184.30 L220.60,184.73 L221.53,185.17 L222.45,185.64 L223.38,186.13 L224.30,186.63 L225.23,187.16 L226.15,187.70 L227.08,188.27 L228.00,188.85 L228.93,189.45 L229.85,190.08 L230.78,190.72 L231.70,191.38 L232.62,192.06 L233.55,192.76 L234.48,193.48 L235.40,194.21 L236.33,194.97 L237.25,195.73 L238.18,196.51 L239.10,197.31 L240.03,198.11 L240.95,198.93 L241.88,199.76 L242.80,200.60" fill="none" stroke="#d03a34" stroke-width="0.9"/>
<path d="M205.80,176.94 V180.94 M204.80,176.94 h2 M204.80,180.94 h2" stroke="#d03a34" stroke-width="0.6" fill="none"/>
<circle cx="205.80" cy="178.94" r="1.25" fill="#7a1a22"/>
<path d="M215.05,181.72 V185.72 M214.05,181.72 h2 M214.05,185.72 h2" stroke="#d03a34" stroke-width="0.6" fill="none"/>
<circle cx="215.05" cy="183.72" r="1.25" fill="#7a1a22"/>
<path d="M224.30,184.51 V188.51 M223.30,184.51 h2 M223.30,188.51 h2" stroke="#d03a34" stroke-width="0.6" fill="none"/>
<circle cx="224.30" cy="186.51" r="1.25" fill="#7a1a22"/>
<circle cx="233.55" cy="191.99" r="1.25" fill="#7a1a22"/>
<path d="M242.80,198.99 V202.99 M241.80,198.99 h2 M241.80,202.99 h2" stroke="#d03a34" stroke-width="0.6" fill="none"/>
<circle cx="242.80" cy="200.99" r="1.25" fill="#7a1a22"/>
<path d="M205.80,179.36 L206.73,179.43 L207.65,179.51 L208.58,179.60 L209.50,179.70 L210.43,179.80 L211.35,179.92 L212.28,180.05 L213.20,180.19 L214.12,180.35 L215.05,180.51 L215.98,180.70 L216.90,180.90 L217.83,181.12 L218.75,181.37 L219.68,181.63 L220.60,181.92 L221.53,182.23 L222.45,182.57 L223.38,182.94 L224.30,183.34 L225.23,183.78 L226.15,184.25 L227.08,184.76 L228.00,185.31 L228.93,185.90 L229.85,186.54 L230.78,187.22 L231.70,187.94 L232.62,188.72 L233.55,189.54 L234.48,190.42 L235.40,191.34 L236.33,192.32 L237.25,193.34 L238.18,194.41 L239.10,195.52 L240.03,196.68 L240.95,197.88 L241.88,199.11 L242.80,200.38" fill="none" stroke="#48ac58" stroke-width="0.9"/>
<path d="M205.80,175.94 V181.94 M204.80,175.94 h2 M204.80,181.94 h2" stroke="#48ac58" stroke-width="0.6" fill="none"/>
<circle cx="205.80" cy="178.94" r="1.25" fill="#1e5a30"/>
<path d="M215.05,177.42 V183.42 M214.05,177.42 h2 M214.05,183.42 h2" stroke="#48ac58" stroke-width="0.6" fill="none"/>
<circle cx="215.05" cy="180.42" r="1.25" fill="#1e5a30"/>
<path d="M224.30,182.59 V186.59 M223.30,182.59 h2 M223.30,186.59 h2" stroke="#48ac58" stroke-width="0.6" fill="none"/>
<circle cx="224.30" cy="184.59" r="1.25" fill="#1e5a30"/>
<path d="M233.55,186.51 V190.51 M232.55,186.51 h2 M232.55,190.51 h2" stroke="#48ac58" stroke-width="0.6" fill="none"/>
<circle cx="233.55" cy="188.51" r="1.25" fill="#1e5a30"/>
<circle cx="242.80" cy="200.69" r="1.25" fill="#1e5a30"/>
<path d="M205.80,166.04 L206.73,166.24 L207.65,166.45 L208.58,166.67 L209.50,166.91 L210.43,167.15 L211.35,167.41 L212.28,167.68 L213.20,167.96 L214.12,168.26 L215.05,168.57 L215.98,168.90 L216.90,169.24 L217.83,169.59 L218.75,169.97 L219.68,170.36 L220.60,170.76 L221.53,171.19 L222.45,171.63 L223.38,172.09 L224.30,172.57 L225.23,173.07 L226.15,173.58 L227.08,174.12 L228.00,174.68 L228.93,175.26 L229.85,175.86 L230.78,176.48 L231.70,177.12 L232.62,177.79 L233.55,178.47 L234.48,179.18 L235.40,179.90 L236.33,180.65 L237.25,181.42 L238.18,182.21 L239.10,183.01 L240.03,183.84 L240.95,184.69 L241.88,185.55 L242.80,186.43" fill="none" stroke="#4777a6" stroke-width="0.9"/>
<path d="M205.80,160.45 V170.45 M204.80,160.45 h2 M204.80,170.45 h2" stroke="#4777a6" stroke-width="0.6" fill="none"/>
<circle cx="205.80" cy="165.45" r="1.25" fill="#1b2740"/>
<path d="M215.05,167.37 V171.37 M214.05,167.37 h2 M214.05,171.37 h2" stroke="#4777a6" stroke-width="0.6" fill="none"/>
<circle cx="215.05" cy="169.37" r="1.25" fill="#1b2740"/>
<path d="M224.30,170.85 V174.85 M223.30,170.85 h2 M223.30,174.85 h2" stroke="#4777a6" stroke-width="0.6" fill="none"/>
<circle cx="224.30" cy="172.85" r="1.25" fill="#1b2740"/>
<circle cx="233.55" cy="177.63" r="1.25" fill="#1b2740"/>
<circle cx="242.80" cy="186.77" r="1.25" fill="#1b2740"/>
<text transform="translate(192.80,185.30) scale(0.84,1)" font-size="5.2" fill="#2a2a2a">CI = 0.85</text>
<text transform="translate(202.40,190.80) scale(0.84,1)" font-size="5.2" fill="#2a2a2a">CI = 1.49</text>
<text transform="translate(211.00,195.20) scale(0.84,1)" font-size="5.2" fill="#2a2a2a">CI = 2.04</text>
<text transform="translate(219.40,200.00) scale(0.84,1)" font-size="5.2" fill="#2a2a2a">CI = 2.55</text>
<text transform="translate(231.90,206.60) scale(0.84,1)" font-size="5.2" fill="#2a2a2a">CI = 0.3</text>
<path d="M303.5,144.2 V212.0 H395.0" fill="none" stroke="#111" stroke-width="1.2"/>
<line x1="300.9" y1="212.00" x2="303.5" y2="212.00" stroke="#111" stroke-width="0.8"/>
<text x="297.3" y="214.35" text-anchor="end" font-size="6.5" fill="#222">0</text>
<line x1="300.9" y1="190.25" x2="303.5" y2="190.25" stroke="#111" stroke-width="0.8"/>
<text x="297.3" y="192.60" text-anchor="end" font-size="6.5" fill="#222">50</text>
<line x1="300.9" y1="168.50" x2="303.5" y2="168.50" stroke="#111" stroke-width="0.8"/>
<text x="297.3" y="170.85" text-anchor="end" font-size="6.5" fill="#222">100</text>
<line x1="300.9" y1="146.75" x2="303.5" y2="146.75" stroke="#111" stroke-width="0.8"/>
<text x="297.3" y="149.10" text-anchor="end" font-size="6.5" fill="#222">150</text>
<line x1="328.30" y1="212.0" x2="328.30" y2="214.9" stroke="#111" stroke-width="0.9"/>
<line x1="337.55" y1="212.0" x2="337.55" y2="214.9" stroke="#111" stroke-width="0.9"/>
<line x1="346.80" y1="212.0" x2="346.80" y2="214.9" stroke="#111" stroke-width="0.9"/>
<line x1="356.05" y1="212.0" x2="356.05" y2="214.9" stroke="#111" stroke-width="0.9"/>
<line x1="365.30" y1="212.0" x2="365.30" y2="214.9" stroke="#111" stroke-width="0.9"/>
<text transform="translate(286.20,222.60) scale(0.877,1)" font-size="5.0" fill="#383838">LY500307 (µM)</text>
<text transform="translate(286.20,229.60) scale(0.877,1)" font-size="5.0" fill="#383838">Doxorubicin (µm)</text>
<text transform="translate(328.30,222.60) scale(0.95,1)" font-size="4.6" fill="#383838" text-anchor="middle">10</text>
<text transform="translate(328.30,229.80) scale(0.95,1)" font-size="4.6" fill="#383838" text-anchor="middle">1</text>
<text transform="translate(337.55,222.60) scale(0.95,1)" font-size="4.6" fill="#383838" text-anchor="middle">5</text>
<text transform="translate(337.55,229.80) scale(0.95,1)" font-size="4.6" fill="#383838" text-anchor="middle">0.5</text>
<text transform="translate(346.80,222.60) scale(0.95,1)" font-size="4.6" fill="#383838" text-anchor="middle">2.5</text>
<text transform="translate(346.80,229.80) scale(0.95,1)" font-size="4.6" fill="#383838" text-anchor="middle">0.25</text>
<text transform="translate(356.45,222.60) scale(0.95,1)" font-size="4.6" fill="#383838" text-anchor="middle">1.25</text>
<text transform="translate(356.45,229.80) scale(0.95,1)" font-size="4.6" fill="#383838" text-anchor="middle">0.125</text>
<text transform="translate(362.30,222.60) scale(0.95,1)" font-size="4.6" fill="#383838">0.625</text>
<text transform="translate(362.30,229.80) scale(0.95,1)" font-size="4.6" fill="#383838">0.0625</text>
<path d="M328.30,168.39 L329.23,168.57 L330.15,168.78 L331.07,169.03 L332.00,169.31 L332.93,169.64 L333.85,170.02 L334.78,170.46 L335.70,170.96 L336.62,171.53 L337.55,172.18 L338.48,172.91 L339.40,173.73 L340.32,174.63 L341.25,175.62 L342.18,176.70 L343.10,177.86 L344.03,179.09 L344.95,180.39 L345.88,181.74 L346.80,183.12 L347.73,184.51 L348.65,185.90 L349.57,187.26 L350.50,188.58 L351.43,189.85 L352.35,191.04 L353.28,192.16 L354.20,193.19 L355.12,194.13 L356.05,194.99 L356.98,195.76 L357.90,196.44 L358.82,197.05 L359.75,197.58 L360.68,198.05 L361.60,198.45 L362.53,198.81 L363.45,199.11 L364.38,199.37 L365.30,199.60" fill="none" stroke="#d03a34" stroke-width="0.9"/>
<path d="M328.30,165.50 V171.50 M327.30,165.50 h2 M327.30,171.50 h2" stroke="#d03a34" stroke-width="0.6" fill="none"/>
<circle cx="328.30" cy="168.50" r="1.25" fill="#7a1a22"/>
<path d="M337.55,166.98 V176.98 M336.55,166.98 h2 M336.55,176.98 h2" stroke="#d03a34" stroke-width="0.6" fill="none"/>
<circle cx="337.55" cy="171.98" r="1.25" fill="#7a1a22"/>
<path d="M346.80,177.29 V189.29 M345.80,177.29 h2 M345.80,189.29 h2" stroke="#d03a34" stroke-width="0.6" fill="none"/>
<circle cx="346.80" cy="183.29" r="1.25" fill="#7a1a22"/>
<path d="M356.05,190.82 V198.82 M355.05,190.82 h2 M355.05,198.82 h2" stroke="#d03a34" stroke-width="0.6" fill="none"/>
<circle cx="356.05" cy="194.82" r="1.25" fill="#7a1a22"/>
<path d="M365.30,196.69 V202.69 M364.30,196.69 h2 M364.30,202.69 h2" stroke="#d03a34" stroke-width="0.6" fill="none"/>
<circle cx="365.30" cy="199.69" r="1.25" fill="#7a1a22"/>
<path d="M328.30,171.22 L329.23,171.24 L330.15,171.26 L331.07,171.30 L332.00,171.34 L332.93,171.40 L333.85,171.48 L334.78,171.59 L335.70,171.72 L336.62,171.90 L337.55,172.13 L338.48,172.43 L339.40,172.81 L340.32,173.30 L341.25,173.91 L342.18,174.67 L343.10,175.60 L344.03,176.72 L344.95,178.02 L345.88,179.50 L346.80,181.12 L347.73,182.85 L348.65,184.62 L349.57,186.36 L350.50,188.01 L351.43,189.52 L352.35,190.86 L353.28,192.00 L354.20,192.97 L355.12,193.76 L356.05,194.40 L356.98,194.91 L357.90,195.31 L358.82,195.62 L359.75,195.86 L360.68,196.05 L361.60,196.19 L362.53,196.30 L363.45,196.38 L364.38,196.45 L365.30,196.49" fill="none" stroke="#48ac58" stroke-width="0.9"/>
<path d="M328.30,169.41 V175.41 M327.30,169.41 h2 M327.30,175.41 h2" stroke="#48ac58" stroke-width="0.6" fill="none"/>
<circle cx="328.30" cy="172.41" r="1.25" fill="#1e5a30"/>
<path d="M337.55,167.68 V173.68 M336.55,167.68 h2 M336.55,173.68 h2" stroke="#48ac58" stroke-width="0.6" fill="none"/>
<circle cx="337.55" cy="170.68" r="1.25" fill="#1e5a30"/>
<path d="M346.80,178.55 V184.55 M345.80,178.55 h2 M345.80,184.55 h2" stroke="#48ac58" stroke-width="0.6" fill="none"/>
<circle cx="346.80" cy="181.55" r="1.25" fill="#1e5a30"/>
<path d="M356.05,190.73 V196.73 M355.05,190.73 h2 M355.05,196.73 h2" stroke="#48ac58" stroke-width="0.6" fill="none"/>
<circle cx="356.05" cy="193.73" r="1.25" fill="#1e5a30"/>
<path d="M365.30,194.99 V198.99 M364.30,194.99 h2 M364.30,198.99 h2" stroke="#48ac58" stroke-width="0.6" fill="none"/>
<circle cx="365.30" cy="196.99" r="1.25" fill="#1e5a30"/>
<path d="M328.30,167.28 L329.23,167.34 L330.15,167.40 L331.07,167.48 L332.00,167.57 L332.93,167.68 L333.85,167.80 L334.78,167.94 L335.70,168.09 L336.62,168.28 L337.55,168.48 L338.48,168.72 L339.40,168.99 L340.32,169.30 L341.25,169.65 L342.18,170.04 L343.10,170.48 L344.03,170.98 L344.95,171.53 L345.88,172.14 L346.80,172.82 L347.73,173.56 L348.65,174.36 L349.57,175.23 L350.50,176.16 L351.43,177.15 L352.35,178.19 L353.28,179.27 L354.20,180.38 L355.12,181.52 L356.05,182.67 L356.98,183.81 L357.90,184.95 L358.82,186.05 L359.75,187.12 L360.68,188.14 L361.60,189.11 L362.53,190.02 L363.45,190.86 L364.38,191.64 L365.30,192.36" fill="none" stroke="#4777a6" stroke-width="0.9"/>
<path d="M328.30,166.06 V170.06 M327.30,166.06 h2 M327.30,170.06 h2" stroke="#4777a6" stroke-width="0.6" fill="none"/>
<circle cx="328.30" cy="168.06" r="1.25" fill="#1b2740"/>
<path d="M337.55,164.19 V170.19 M336.55,164.19 h2 M336.55,170.19 h2" stroke="#4777a6" stroke-width="0.6" fill="none"/>
<circle cx="337.55" cy="167.19" r="1.25" fill="#1b2740"/>
<path d="M346.80,171.50 V175.50 M345.80,171.50 h2 M345.80,175.50 h2" stroke="#4777a6" stroke-width="0.6" fill="none"/>
<circle cx="346.80" cy="173.50" r="1.25" fill="#1b2740"/>
<circle cx="356.05" cy="182.42" r="1.25" fill="#1b2740"/>
<path d="M365.30,189.43 V195.43 M364.30,189.43 h2 M364.30,195.43 h2" stroke="#4777a6" stroke-width="0.6" fill="none"/>
<circle cx="365.30" cy="192.43" r="1.25" fill="#1b2740"/>
<text transform="translate(316.30,181.80) scale(0.84,1)" font-size="5.2" fill="#2a2a2a">CI = 1.02</text>
<text transform="translate(324.40,188.60) scale(0.84,1)" font-size="5.2" fill="#2a2a2a">CI = 2.44</text>
<text transform="translate(333.60,195.60) scale(0.84,1)" font-size="5.2" fill="#2a2a2a">CI = 3.04</text>
<text transform="translate(344.00,204.50) scale(0.84,1)" font-size="5.2" fill="#2a2a2a">CI = 1.61</text>
<text transform="translate(352.70,210.50) scale(0.84,1)" font-size="5.2" fill="#2a2a2a">CI = 1.94</text>
<path d="M422.5,144.2 V212.0 H514.0" fill="none" stroke="#111" stroke-width="1.2"/>
<line x1="419.9" y1="212.00" x2="422.5" y2="212.00" stroke="#111" stroke-width="0.8"/>
<text x="416.3" y="214.35" text-anchor="end" font-size="6.5" fill="#222">0</text>
<line x1="419.9" y1="190.25" x2="422.5" y2="190.25" stroke="#111" stroke-width="0.8"/>
<text x="416.3" y="192.60" text-anchor="end" font-size="6.5" fill="#222">50</text>
<line x1="419.9" y1="168.50" x2="422.5" y2="168.50" stroke="#111" stroke-width="0.8"/>
<text x="416.3" y="170.85" text-anchor="end" font-size="6.5" fill="#222">100</text>
<line x1="419.9" y1="146.75" x2="422.5" y2="146.75" stroke="#111" stroke-width="0.8"/>
<text x="416.3" y="149.10" text-anchor="end" font-size="6.5" fill="#222">150</text>
<line x1="447.40" y1="212.0" x2="447.40" y2="214.9" stroke="#111" stroke-width="0.9"/>
<line x1="456.65" y1="212.0" x2="456.65" y2="214.9" stroke="#111" stroke-width="0.9"/>
<line x1="465.90" y1="212.0" x2="465.90" y2="214.9" stroke="#111" stroke-width="0.9"/>
<line x1="475.15" y1="212.0" x2="475.15" y2="214.9" stroke="#111" stroke-width="0.9"/>
<line x1="484.40" y1="212.0" x2="484.40" y2="214.9" stroke="#111" stroke-width="0.9"/>
<text transform="translate(405.20,222.60) scale(0.877,1)" font-size="5.0" fill="#383838">LY500307 (µM)</text>
<text transform="translate(405.20,229.60) scale(0.877,1)" font-size="5.0" fill="#383838">Doxorubicin (µm)</text>
<text transform="translate(447.40,222.60) scale(0.95,1)" font-size="4.6" fill="#383838" text-anchor="middle">10</text>
<text transform="translate(447.40,229.80) scale(0.95,1)" font-size="4.6" fill="#383838" text-anchor="middle">1</text>
<text transform="translate(456.65,222.60) scale(0.95,1)" font-size="4.6" fill="#383838" text-anchor="middle">5</text>
<text transform="translate(456.65,229.80) scale(0.95,1)" font-size="4.6" fill="#383838" text-anchor="middle">0.5</text>
<text transform="translate(465.90,222.60) scale(0.95,1)" font-size="4.6" fill="#383838" text-anchor="middle">2.5</text>
<text transform="translate(465.90,229.80) scale(0.95,1)" font-size="4.6" fill="#383838" text-anchor="middle">0.25</text>
<text transform="translate(475.55,222.60) scale(0.95,1)" font-size="4.6" fill="#383838" text-anchor="middle">1.25</text>
<text transform="translate(475.55,229.80) scale(0.95,1)" font-size="4.6" fill="#383838" text-anchor="middle">0.125</text>
<text transform="translate(481.40,222.60) scale(0.95,1)" font-size="4.6" fill="#383838">0.625</text>
<text transform="translate(481.40,229.80) scale(0.95,1)" font-size="4.6" fill="#383838">0.0625</text>
<path d="M447.40,165.66 L448.32,165.66 L449.25,165.66 L450.17,165.66 L451.10,165.66 L452.02,165.66 L452.95,165.66 L453.88,165.66 L454.80,165.67 L455.72,165.67 L456.65,165.68 L457.57,165.69 L458.50,165.70 L459.42,165.72 L460.35,165.74 L461.27,165.78 L462.20,165.83 L463.12,165.90 L464.05,166.00 L464.97,166.14 L465.90,166.34 L466.82,166.61 L467.75,166.97 L468.67,167.46 L469.60,168.10 L470.52,168.92 L471.45,169.94 L472.38,171.15 L473.30,172.52 L474.22,173.98 L475.15,175.46 L476.07,176.87 L477.00,178.13 L477.92,179.22 L478.85,180.11 L479.77,180.81 L480.70,181.34 L481.62,181.75 L482.55,182.05 L483.47,182.26 L484.40,182.42" fill="none" stroke="#d03a34" stroke-width="0.9"/>
<path d="M447.40,162.45 V168.45 M446.40,162.45 h2 M446.40,168.45 h2" stroke="#d03a34" stroke-width="0.6" fill="none"/>
<circle cx="447.40" cy="165.45" r="1.25" fill="#7a1a22"/>
<path d="M456.65,162.89 V168.89 M455.65,162.89 h2 M455.65,168.89 h2" stroke="#d03a34" stroke-width="0.6" fill="none"/>
<circle cx="456.65" cy="165.89" r="1.25" fill="#7a1a22"/>
<path d="M465.90,163.32 V169.32 M464.90,163.32 h2 M464.90,169.32 h2" stroke="#d03a34" stroke-width="0.6" fill="none"/>
<circle cx="465.90" cy="166.32" r="1.25" fill="#7a1a22"/>
<path d="M475.15,172.46 V178.46 M474.15,172.46 h2 M474.15,178.46 h2" stroke="#d03a34" stroke-width="0.6" fill="none"/>
<circle cx="475.15" cy="175.46" r="1.25" fill="#7a1a22"/>
<path d="M484.40,178.42 V186.42 M483.40,178.42 h2 M483.40,186.42 h2" stroke="#d03a34" stroke-width="0.6" fill="none"/>
<circle cx="484.40" cy="182.42" r="1.25" fill="#7a1a22"/>
<path d="M447.40,159.34 L448.32,159.35 L449.25,159.37 L450.17,159.39 L451.10,159.42 L452.02,159.44 L452.95,159.48 L453.88,159.52 L454.80,159.57 L455.72,159.62 L456.65,159.69 L457.57,159.77 L458.50,159.86 L459.42,159.97 L460.35,160.10 L461.27,160.25 L462.20,160.42 L463.12,160.62 L464.05,160.86 L464.97,161.14 L465.90,161.46 L466.82,161.83 L467.75,162.25 L468.67,162.74 L469.60,163.29 L470.52,163.92 L471.45,164.63 L472.38,165.42 L473.30,166.30 L474.22,167.27 L475.15,168.32 L476.07,169.45 L477.00,170.65 L477.92,171.91 L478.85,173.22 L479.77,174.56 L480.70,175.92 L481.62,177.26 L482.55,178.58 L483.47,179.86 L484.40,181.08" fill="none" stroke="#48ac58" stroke-width="0.9"/>
<path d="M447.40,155.97 V167.97 M446.40,155.97 h2 M446.40,167.97 h2" stroke="#48ac58" stroke-width="0.6" fill="none"/>
<circle cx="447.40" cy="161.97" r="1.25" fill="#1e5a30"/>
<path d="M456.65,151.88 V159.88 M455.65,151.88 h2 M455.65,159.88 h2" stroke="#48ac58" stroke-width="0.6" fill="none"/>
<circle cx="456.65" cy="155.88" r="1.25" fill="#1e5a30"/>
<path d="M465.90,158.84 V166.84 M464.90,158.84 h2 M464.90,166.84 h2" stroke="#48ac58" stroke-width="0.6" fill="none"/>
<circle cx="465.90" cy="162.84" r="1.25" fill="#1e5a30"/>
<path d="M475.15,163.06 V173.06 M474.15,163.06 h2 M474.15,173.06 h2" stroke="#48ac58" stroke-width="0.6" fill="none"/>
<circle cx="475.15" cy="168.06" r="1.25" fill="#1e5a30"/>
<path d="M484.40,178.12 V184.12 M483.40,178.12 h2 M483.40,184.12 h2" stroke="#48ac58" stroke-width="0.6" fill="none"/>
<circle cx="484.40" cy="181.12" r="1.25" fill="#1e5a30"/>
<path d="M447.40,165.96 L448.32,165.96 L449.25,165.96 L450.17,165.96 L451.10,165.96 L452.02,165.96 L452.95,165.96 L453.88,165.96 L454.80,165.96 L455.72,165.96 L456.65,165.97 L457.57,165.97 L458.50,165.98 L459.42,165.98 L460.35,165.99 L461.27,166.01 L462.20,166.03 L463.12,166.07 L464.05,166.12 L464.97,166.20 L465.90,166.31 L466.82,166.47 L467.75,166.70 L468.67,167.03 L469.60,167.48 L470.52,168.10 L471.45,168.93 L472.38,169.97 L473.30,171.23 L474.22,172.65 L475.15,174.16 L476.07,175.63 L477.00,176.97 L477.92,178.11 L478.85,179.04 L479.77,179.75 L480.70,180.27 L481.62,180.65 L482.55,180.93 L483.47,181.11 L484.40,181.25" fill="none" stroke="#4777a6" stroke-width="0.9"/>
<path d="M447.40,163.32 V169.32 M446.40,163.32 h2 M446.40,169.32 h2" stroke="#4777a6" stroke-width="0.6" fill="none"/>
<circle cx="447.40" cy="166.32" r="1.25" fill="#1b2740"/>
<path d="M456.65,161.59 V169.59 M455.65,161.59 h2 M455.65,169.59 h2" stroke="#4777a6" stroke-width="0.6" fill="none"/>
<circle cx="456.65" cy="165.59" r="1.25" fill="#1b2740"/>
<path d="M465.90,163.32 V169.32 M464.90,163.32 h2 M464.90,169.32 h2" stroke="#4777a6" stroke-width="0.6" fill="none"/>
<circle cx="465.90" cy="166.32" r="1.25" fill="#1b2740"/>
<path d="M475.15,171.16 V177.16 M474.15,171.16 h2 M474.15,177.16 h2" stroke="#4777a6" stroke-width="0.6" fill="none"/>
<circle cx="475.15" cy="174.16" r="1.25" fill="#1b2740"/>
<path d="M484.40,178.25 V184.25 M483.40,178.25 h2 M483.40,184.25 h2" stroke="#4777a6" stroke-width="0.6" fill="none"/>
<circle cx="484.40" cy="181.25" r="1.25" fill="#1b2740"/>
<text transform="translate(435.40,174.50) scale(0.84,1)" font-size="5.2" fill="#2a2a2a">CI = 3.21</text>
<text transform="translate(443.20,178.60) scale(0.84,1)" font-size="5.2" fill="#2a2a2a">CI = 17.12</text>
<text transform="translate(451.90,182.60) scale(0.84,1)" font-size="5.2" fill="#2a2a2a">CI = 7.07</text>
<text transform="translate(460.60,187.60) scale(0.84,1)" font-size="5.2" fill="#2a2a2a">CI = 7.14</text>
<text transform="translate(469.30,194.20) scale(0.84,1)" font-size="5.2" fill="#2a2a2a">CI = 1.25</text>
<path d="M60.3,249.5 V317.8 H151.8" fill="none" stroke="#111" stroke-width="1.2"/>
<line x1="57.699999999999996" y1="317.80" x2="60.3" y2="317.80" stroke="#111" stroke-width="0.8"/>
<text x="54.099999999999994" y="320.15" text-anchor="end" font-size="6.5" fill="#222">0</text>
<line x1="57.699999999999996" y1="304.64" x2="60.3" y2="304.64" stroke="#111" stroke-width="0.8"/>
<text x="54.099999999999994" y="306.99" text-anchor="end" font-size="6.5" fill="#222">20</text>
<line x1="57.699999999999996" y1="291.48" x2="60.3" y2="291.48" stroke="#111" stroke-width="0.8"/>
<text x="54.099999999999994" y="293.83" text-anchor="end" font-size="6.5" fill="#222">40</text>
<line x1="57.699999999999996" y1="278.32" x2="60.3" y2="278.32" stroke="#111" stroke-width="0.8"/>
<text x="54.099999999999994" y="280.67" text-anchor="end" font-size="6.5" fill="#222">60</text>
<line x1="57.699999999999996" y1="265.16" x2="60.3" y2="265.16" stroke="#111" stroke-width="0.8"/>
<text x="54.099999999999994" y="267.51" text-anchor="end" font-size="6.5" fill="#222">80</text>
<line x1="57.699999999999996" y1="252.00" x2="60.3" y2="252.00" stroke="#111" stroke-width="0.8"/>
<text x="54.099999999999994" y="254.35" text-anchor="end" font-size="6.5" fill="#222">100</text>
<line x1="85.00" y1="317.8" x2="85.00" y2="320.7" stroke="#111" stroke-width="0.9"/>
<line x1="94.25" y1="317.8" x2="94.25" y2="320.7" stroke="#111" stroke-width="0.9"/>
<line x1="103.50" y1="317.8" x2="103.50" y2="320.7" stroke="#111" stroke-width="0.9"/>
<line x1="112.75" y1="317.8" x2="112.75" y2="320.7" stroke="#111" stroke-width="0.9"/>
<line x1="122.00" y1="317.8" x2="122.00" y2="320.7" stroke="#111" stroke-width="0.9"/>
<text transform="translate(43.00,328.40) scale(0.877,1)" font-size="5.0" fill="#383838">LY500307 (µM)</text>
<text transform="translate(43.00,335.40) scale(0.877,1)" font-size="5.0" fill="#383838">MMAE (nm)</text>
<text transform="translate(85.00,328.40) scale(0.95,1)" font-size="4.6" fill="#383838" text-anchor="middle">10</text>
<text transform="translate(85.00,335.60) scale(0.95,1)" font-size="4.6" fill="#383838" text-anchor="middle">2</text>
<text transform="translate(94.25,328.40) scale(0.95,1)" font-size="4.6" fill="#383838" text-anchor="middle">5</text>
<text transform="translate(94.25,335.60) scale(0.95,1)" font-size="4.6" fill="#383838" text-anchor="middle">1</text>
<text transform="translate(103.50,328.40) scale(0.95,1)" font-size="4.6" fill="#383838" text-anchor="middle">2.5</text>
<text transform="translate(103.50,335.60) scale(0.95,1)" font-size="4.6" fill="#383838" text-anchor="middle">0.5</text>
<text transform="translate(113.15,328.40) scale(0.95,1)" font-size="4.6" fill="#383838" text-anchor="middle">1.25</text>
<text transform="translate(113.15,335.60) scale(0.95,1)" font-size="4.6" fill="#383838" text-anchor="middle">0.25</text>
<text transform="translate(119.00,328.40) scale(0.95,1)" font-size="4.6" fill="#383838">0.625</text>
<text transform="translate(119.00,335.60) scale(0.95,1)" font-size="4.6" fill="#383838">0.125</text>
<path d="M85.00,273.15 L85.92,273.23 L86.85,273.32 L87.78,273.44 L88.70,273.58 L89.62,273.75 L90.55,273.95 L91.47,274.19 L92.40,274.47 L93.33,274.81 L94.25,275.22 L95.17,275.69 L96.10,276.24 L97.03,276.87 L97.95,277.60 L98.88,278.43 L99.80,279.35 L100.72,280.36 L101.65,281.46 L102.58,282.64 L103.50,283.87 L104.42,285.14 L105.35,286.42 L106.28,287.69 L107.20,288.92 L108.12,290.09 L109.05,291.20 L109.97,292.21 L110.90,293.13 L111.83,293.95 L112.75,294.68 L113.67,295.31 L114.60,295.86 L115.53,296.34 L116.45,296.74 L117.38,297.08 L118.30,297.36 L119.22,297.60 L120.15,297.81 L121.07,297.97 L122.00,298.11" fill="none" stroke="#d03a34" stroke-width="0.9"/>
<path d="M85.00,269.06 V277.06 M84.00,269.06 h2 M84.00,277.06 h2" stroke="#d03a34" stroke-width="0.6" fill="none"/>
<circle cx="85.00" cy="273.06" r="1.25" fill="#7a1a22"/>
<path d="M94.25,266.36 V284.36 M93.25,266.36 h2 M93.25,284.36 h2" stroke="#d03a34" stroke-width="0.6" fill="none"/>
<circle cx="94.25" cy="275.36" r="1.25" fill="#7a1a22"/>
<path d="M103.50,274.78 V292.78 M102.50,274.78 h2 M102.50,292.78 h2" stroke="#d03a34" stroke-width="0.6" fill="none"/>
<circle cx="103.50" cy="283.78" r="1.25" fill="#7a1a22"/>
<path d="M112.75,289.77 V299.77 M111.75,289.77 h2 M111.75,299.77 h2" stroke="#d03a34" stroke-width="0.6" fill="none"/>
<circle cx="112.75" cy="294.77" r="1.25" fill="#7a1a22"/>
<path d="M122.00,295.06 V301.06 M121.00,295.06 h2 M121.00,301.06 h2" stroke="#d03a34" stroke-width="0.6" fill="none"/>
<circle cx="122.00" cy="298.06" r="1.25" fill="#7a1a22"/>
<path d="M85.00,277.71 L85.92,277.96 L86.85,278.25 L87.78,278.58 L88.70,278.96 L89.62,279.39 L90.55,279.88 L91.47,280.42 L92.40,281.04 L93.33,281.72 L94.25,282.46 L95.17,283.27 L96.10,284.13 L97.03,285.05 L97.95,286.01 L98.88,287.01 L99.80,288.02 L100.72,289.04 L101.65,290.05 L102.58,291.04 L103.50,292.00 L104.42,292.90 L105.35,293.76 L106.28,294.55 L107.20,295.29 L108.12,295.95 L109.05,296.55 L109.97,297.09 L110.90,297.57 L111.83,297.99 L112.75,298.36 L113.67,298.68 L114.60,298.96 L115.53,299.20 L116.45,299.41 L117.38,299.59 L118.30,299.75 L119.22,299.88 L120.15,299.99 L121.07,300.09 L122.00,300.17" fill="none" stroke="#48ac58" stroke-width="0.9"/>
<path d="M85.00,273.79 V281.79 M84.00,273.79 h2 M84.00,281.79 h2" stroke="#48ac58" stroke-width="0.6" fill="none"/>
<circle cx="85.00" cy="277.79" r="1.25" fill="#1e5a30"/>
<path d="M94.25,278.27 V286.27 M93.25,278.27 h2 M93.25,286.27 h2" stroke="#48ac58" stroke-width="0.6" fill="none"/>
<circle cx="94.25" cy="282.27" r="1.25" fill="#1e5a30"/>
<path d="M103.50,284.27 V300.27 M102.50,284.27 h2 M102.50,300.27 h2" stroke="#48ac58" stroke-width="0.6" fill="none"/>
<circle cx="103.50" cy="292.27" r="1.25" fill="#1e5a30"/>
<path d="M112.75,293.93 V301.93 M111.75,293.93 h2 M111.75,301.93 h2" stroke="#48ac58" stroke-width="0.6" fill="none"/>
<circle cx="112.75" cy="297.93" r="1.25" fill="#1e5a30"/>
<path d="M122.00,297.43 V303.43 M121.00,297.43 h2 M121.00,303.43 h2" stroke="#48ac58" stroke-width="0.6" fill="none"/>
<circle cx="122.00" cy="300.43" r="1.25" fill="#1e5a30"/>
<path d="M85.00,261.10 L85.92,261.16 L86.85,261.23 L87.78,261.31 L88.70,261.41 L89.62,261.53 L90.55,261.67 L91.47,261.83 L92.40,262.03 L93.33,262.26 L94.25,262.53 L95.17,262.84 L96.10,263.21 L97.03,263.65 L97.95,264.15 L98.88,264.72 L99.80,265.39 L100.72,266.14 L101.65,266.99 L102.58,267.95 L103.50,269.01 L104.42,270.17 L105.35,271.44 L106.28,272.79 L107.20,274.22 L108.12,275.71 L109.05,277.24 L109.97,278.78 L110.90,280.31 L111.83,281.82 L112.75,283.27 L113.67,284.64 L114.60,285.93 L115.53,287.13 L116.45,288.22 L117.38,289.20 L118.30,290.08 L119.22,290.86 L120.15,291.55 L121.07,292.15 L122.00,292.67" fill="none" stroke="#4777a6" stroke-width="0.9"/>
<path d="M85.00,258.20 V266.20 M84.00,258.20 h2 M84.00,266.20 h2" stroke="#4777a6" stroke-width="0.6" fill="none"/>
<circle cx="85.00" cy="262.20" r="1.25" fill="#1b2740"/>
<path d="M94.25,256.88 V264.88 M93.25,256.88 h2 M93.25,264.88 h2" stroke="#4777a6" stroke-width="0.6" fill="none"/>
<circle cx="94.25" cy="260.88" r="1.25" fill="#1b2740"/>
<path d="M103.50,262.77 V276.77 M102.50,262.77 h2 M102.50,276.77 h2" stroke="#4777a6" stroke-width="0.6" fill="none"/>
<circle cx="103.50" cy="269.77" r="1.25" fill="#1b2740"/>
<path d="M112.75,275.93 V289.93 M111.75,275.93 h2 M111.75,289.93 h2" stroke="#4777a6" stroke-width="0.6" fill="none"/>
<circle cx="112.75" cy="282.93" r="1.25" fill="#1b2740"/>
<path d="M122.00,287.80 V297.80 M121.00,287.80 h2 M121.00,297.80 h2" stroke="#4777a6" stroke-width="0.6" fill="none"/>
<circle cx="122.00" cy="292.80" r="1.25" fill="#1b2740"/>
<text transform="translate(72.20,288.10) scale(0.84,1)" font-size="5.2" fill="#2a2a2a">CI = 0.68</text>
<text transform="translate(82.20,296.10) scale(0.84,1)" font-size="5.2" fill="#2a2a2a">CI = 0.9</text>
<text transform="translate(89.70,306.70) scale(0.84,1)" font-size="5.2" fill="#2a2a2a">CI = 0.72</text>
<text transform="translate(99.50,310.90) scale(0.84,1)" font-size="5.2" fill="#2a2a2a">CI = 0.85</text>
<text transform="translate(120.20,310.90) scale(0.84,1)" font-size="5.2" fill="#2a2a2a">CI = 1.3</text>
<path d="M181.7,249.5 V317.8 H273.2" fill="none" stroke="#111" stroke-width="1.2"/>
<line x1="179.1" y1="317.80" x2="181.7" y2="317.80" stroke="#111" stroke-width="0.8"/>
<text x="175.5" y="320.15" text-anchor="end" font-size="6.5" fill="#222">0</text>
<line x1="179.1" y1="304.64" x2="181.7" y2="304.64" stroke="#111" stroke-width="0.8"/>
<text x="175.5" y="306.99" text-anchor="end" font-size="6.5" fill="#222">20</text>
<line x1="179.1" y1="291.48" x2="181.7" y2="291.48" stroke="#111" stroke-width="0.8"/>
<text x="175.5" y="293.83" text-anchor="end" font-size="6.5" fill="#222">40</text>
<line x1="179.1" y1="278.32" x2="181.7" y2="278.32" stroke="#111" stroke-width="0.8"/>
<text x="175.5" y="280.67" text-anchor="end" font-size="6.5" fill="#222">60</text>
<line x1="179.1" y1="265.16" x2="181.7" y2="265.16" stroke="#111" stroke-width="0.8"/>
<text x="175.5" y="267.51" text-anchor="end" font-size="6.5" fill="#222">80</text>
<line x1="179.1" y1="252.00" x2="181.7" y2="252.00" stroke="#111" stroke-width="0.8"/>
<text x="175.5" y="254.35" text-anchor="end" font-size="6.5" fill="#222">100</text>
<line x1="205.80" y1="317.8" x2="205.80" y2="320.7" stroke="#111" stroke-width="0.9"/>
<line x1="215.05" y1="317.8" x2="215.05" y2="320.7" stroke="#111" stroke-width="0.9"/>
<line x1="224.30" y1="317.8" x2="224.30" y2="320.7" stroke="#111" stroke-width="0.9"/>
<line x1="233.55" y1="317.8" x2="233.55" y2="320.7" stroke="#111" stroke-width="0.9"/>
<line x1="242.80" y1="317.8" x2="242.80" y2="320.7" stroke="#111" stroke-width="0.9"/>
<text transform="translate(164.40,328.40) scale(0.877,1)" font-size="5.0" fill="#383838">LY500307 (µM)</text>
<text transform="translate(164.40,335.40) scale(0.877,1)" font-size="5.0" fill="#383838">MMAE (nm)</text>
<text transform="translate(205.80,328.40) scale(0.95,1)" font-size="4.6" fill="#383838" text-anchor="middle">10</text>
<text transform="translate(205.80,335.60) scale(0.95,1)" font-size="4.6" fill="#383838" text-anchor="middle">2</text>
<text transform="translate(215.05,328.40) scale(0.95,1)" font-size="4.6" fill="#383838" text-anchor="middle">5</text>
<text transform="translate(215.05,335.60) scale(0.95,1)" font-size="4.6" fill="#383838" text-anchor="middle">1</text>
<text transform="translate(224.30,328.40) scale(0.95,1)" font-size="4.6" fill="#383838" text-anchor="middle">2.5</text>
<text transform="translate(224.30,335.60) scale(0.95,1)" font-size="4.6" fill="#383838" text-anchor="middle">0.5</text>
<text transform="translate(233.95,328.40) scale(0.95,1)" font-size="4.6" fill="#383838" text-anchor="middle">1.25</text>
<text transform="translate(233.95,335.60) scale(0.95,1)" font-size="4.6" fill="#383838" text-anchor="middle">0.25</text>
<text transform="translate(239.80,328.40) scale(0.95,1)" font-size="4.6" fill="#383838">0.625</text>
<text transform="translate(239.80,335.60) scale(0.95,1)" font-size="4.6" fill="#383838">0.125</text>
<path d="M205.80,284.88 L206.73,285.50 L207.65,286.17 L208.58,286.89 L209.50,287.65 L210.43,288.45 L211.35,289.29 L212.28,290.18 L213.20,291.09 L214.12,292.04 L215.05,293.01 L215.98,293.99 L216.90,294.99 L217.83,295.99 L218.75,296.98 L219.68,297.97 L220.60,298.93 L221.53,299.88 L222.45,300.79 L223.38,301.67 L224.30,302.51 L225.23,303.31 L226.15,304.07 L227.08,304.78 L228.00,305.45 L228.93,306.07 L229.85,306.64 L230.78,307.18 L231.70,307.66 L232.62,308.11 L233.55,308.52 L234.48,308.89 L235.40,309.23 L236.33,309.54 L237.25,309.82 L238.18,310.07 L239.10,310.29 L240.03,310.50 L240.95,310.68 L241.88,310.84 L242.80,310.99" fill="none" stroke="#d03a34" stroke-width="0.9"/>
<path d="M205.80,281.90 V287.90 M204.80,281.90 h2 M204.80,287.90 h2" stroke="#d03a34" stroke-width="0.6" fill="none"/>
<circle cx="205.80" cy="284.90" r="1.25" fill="#7a1a22"/>
<path d="M215.05,289.93 V295.93 M214.05,289.93 h2 M214.05,295.93 h2" stroke="#d03a34" stroke-width="0.6" fill="none"/>
<circle cx="215.05" cy="292.93" r="1.25" fill="#7a1a22"/>
<path d="M224.30,299.67 V305.67 M223.30,299.67 h2 M223.30,305.67 h2" stroke="#d03a34" stroke-width="0.6" fill="none"/>
<circle cx="224.30" cy="302.67" r="1.25" fill="#7a1a22"/>
<path d="M233.55,305.32 V311.32 M232.55,305.32 h2 M232.55,311.32 h2" stroke="#d03a34" stroke-width="0.6" fill="none"/>
<circle cx="233.55" cy="308.32" r="1.25" fill="#7a1a22"/>
<path d="M242.80,307.09 V315.09 M241.80,307.09 h2 M241.80,315.09 h2" stroke="#d03a34" stroke-width="0.6" fill="none"/>
<circle cx="242.80" cy="311.09" r="1.25" fill="#7a1a22"/>
<path d="M205.80,284.38 L206.73,285.09 L207.65,285.83 L208.58,286.61 L209.50,287.40 L210.43,288.21 L211.35,289.03 L212.28,289.85 L213.20,290.67 L214.12,291.47 L215.05,292.24 L215.98,293.00 L216.90,293.72 L217.83,294.40 L218.75,295.04 L219.68,295.64 L220.60,296.20 L221.53,296.72 L222.45,297.19 L223.38,297.62 L224.30,298.01 L225.23,298.37 L226.15,298.69 L227.08,298.97 L228.00,299.23 L228.93,299.46 L229.85,299.66 L230.78,299.84 L231.70,300.00 L232.62,300.14 L233.55,300.27 L234.48,300.38 L235.40,300.47 L236.33,300.56 L237.25,300.63 L238.18,300.70 L239.10,300.75 L240.03,300.80 L240.95,300.85 L241.88,300.89 L242.80,300.92" fill="none" stroke="#48ac58" stroke-width="0.9"/>
<path d="M205.80,281.37 V287.37 M204.80,281.37 h2 M204.80,287.37 h2" stroke="#48ac58" stroke-width="0.6" fill="none"/>
<circle cx="205.80" cy="284.37" r="1.25" fill="#1e5a30"/>
<path d="M215.05,289.27 V295.27 M214.05,289.27 h2 M214.05,295.27 h2" stroke="#48ac58" stroke-width="0.6" fill="none"/>
<circle cx="215.05" cy="292.27" r="1.25" fill="#1e5a30"/>
<path d="M224.30,294.93 V300.93 M223.30,294.93 h2 M223.30,300.93 h2" stroke="#48ac58" stroke-width="0.6" fill="none"/>
<circle cx="224.30" cy="297.93" r="1.25" fill="#1e5a30"/>
<path d="M233.55,297.43 V303.43 M232.55,297.43 h2 M232.55,303.43 h2" stroke="#48ac58" stroke-width="0.6" fill="none"/>
<circle cx="233.55" cy="300.43" r="1.25" fill="#1e5a30"/>
<path d="M242.80,297.82 V303.82 M241.80,297.82 h2 M241.80,303.82 h2" stroke="#48ac58" stroke-width="0.6" fill="none"/>
<circle cx="242.80" cy="300.82" r="1.25" fill="#1e5a30"/>
<path d="M205.80,271.44 L206.73,271.45 L207.65,271.47 L208.58,271.49 L209.50,271.51 L210.43,271.54 L211.35,271.57 L212.28,271.60 L213.20,271.64 L214.12,271.69 L215.05,271.74 L215.98,271.80 L216.90,271.88 L217.83,271.96 L218.75,272.06 L219.68,272.17 L220.60,272.30 L221.53,272.45 L222.45,272.62 L223.38,272.83 L224.30,273.06 L225.23,273.33 L226.15,273.64 L227.08,273.99 L228.00,274.40 L228.93,274.87 L229.85,275.41 L230.78,276.03 L231.70,276.73 L232.62,277.53 L233.55,278.44 L234.48,279.47 L235.40,280.63 L236.33,281.92 L237.25,283.37 L238.18,284.98 L239.10,286.75 L240.03,288.69 L240.95,290.81 L241.88,293.09 L242.80,295.53" fill="none" stroke="#4777a6" stroke-width="0.9"/>
<path d="M205.80,260.78 V276.78 M204.80,260.78 h2 M204.80,276.78 h2" stroke="#4777a6" stroke-width="0.6" fill="none"/>
<circle cx="205.80" cy="268.78" r="1.25" fill="#1b2740"/>
<path d="M215.05,269.04 V279.04 M214.05,269.04 h2 M214.05,279.04 h2" stroke="#4777a6" stroke-width="0.6" fill="none"/>
<circle cx="215.05" cy="274.04" r="1.25" fill="#1b2740"/>
<path d="M224.30,266.04 V282.04 M223.30,266.04 h2 M223.30,282.04 h2" stroke="#4777a6" stroke-width="0.6" fill="none"/>
<circle cx="224.30" cy="274.04" r="1.25" fill="#1b2740"/>
<path d="M233.55,271.66 V283.66 M232.55,271.66 h2 M232.55,283.66 h2" stroke="#4777a6" stroke-width="0.6" fill="none"/>
<circle cx="233.55" cy="277.66" r="1.25" fill="#1b2740"/>
<path d="M242.80,290.69 V300.69 M241.80,290.69 h2 M241.80,300.69 h2" stroke="#4777a6" stroke-width="0.6" fill="none"/>
<circle cx="242.80" cy="295.69" r="1.25" fill="#1b2740"/>
<text transform="translate(194.40,281.10) scale(0.84,1)" font-size="5.2" fill="#2a2a2a">CI = 1.1</text>
<text transform="translate(209.40,286.10) scale(0.84,1)" font-size="5.2" fill="#2a2a2a">CI = 1.32</text>
<text transform="translate(217.30,291.10) scale(0.84,1)" font-size="5.2" fill="#2a2a2a">CI = 1.55</text>
<text transform="translate(222.60,295.40) scale(0.84,1)" font-size="5.2" fill="#2a2a2a">CI = 2.37</text>
<text transform="translate(242.90,302.30) scale(0.84,1)" font-size="5.2" fill="#2a2a2a">CI = 4.38</text>
<path d="M303.5,249.5 V317.8 H395.0" fill="none" stroke="#111" stroke-width="1.2"/>
<line x1="300.9" y1="317.80" x2="303.5" y2="317.80" stroke="#111" stroke-width="0.8"/>
<text x="297.3" y="320.15" text-anchor="end" font-size="6.5" fill="#222">0</text>
<line x1="300.9" y1="304.64" x2="303.5" y2="304.64" stroke="#111" stroke-width="0.8"/>
<text x="297.3" y="306.99" text-anchor="end" font-size="6.5" fill="#222">20</text>
<line x1="300.9" y1="291.48" x2="303.5" y2="291.48" stroke="#111" stroke-width="0.8"/>
<text x="297.3" y="293.83" text-anchor="end" font-size="6.5" fill="#222">40</text>
<line x1="300.9" y1="278.32" x2="303.5" y2="278.32" stroke="#111" stroke-width="0.8"/>
<text x="297.3" y="280.67" text-anchor="end" font-size="6.5" fill="#222">60</text>
<line x1="300.9" y1="265.16" x2="303.5" y2="265.16" stroke="#111" stroke-width="0.8"/>
<text x="297.3" y="267.51" text-anchor="end" font-size="6.5" fill="#222">80</text>
<line x1="300.9" y1="252.00" x2="303.5" y2="252.00" stroke="#111" stroke-width="0.8"/>
<text x="297.3" y="254.35" text-anchor="end" font-size="6.5" fill="#222">100</text>
<line x1="327.80" y1="317.8" x2="327.80" y2="320.7" stroke="#111" stroke-width="0.9"/>
<line x1="337.05" y1="317.8" x2="337.05" y2="320.7" stroke="#111" stroke-width="0.9"/>
<line x1="346.30" y1="317.8" x2="346.30" y2="320.7" stroke="#111" stroke-width="0.9"/>
<line x1="355.55" y1="317.8" x2="355.55" y2="320.7" stroke="#111" stroke-width="0.9"/>
<line x1="364.80" y1="317.8" x2="364.80" y2="320.7" stroke="#111" stroke-width="0.9"/>
<text transform="translate(286.20,328.40) scale(0.877,1)" font-size="5.0" fill="#383838">LY500307 (µM)</text>
<text transform="translate(286.20,335.40) scale(0.877,1)" font-size="5.0" fill="#383838">MMAE (nm)</text>
<text transform="translate(327.80,328.40) scale(0.95,1)" font-size="4.6" fill="#383838" text-anchor="middle">10</text>
<text transform="translate(327.80,335.60) scale(0.95,1)" font-size="4.6" fill="#383838" text-anchor="middle">2</text>
<text transform="translate(337.05,328.40) scale(0.95,1)" font-size="4.6" fill="#383838" text-anchor="middle">5</text>
<text transform="translate(337.05,335.60) scale(0.95,1)" font-size="4.6" fill="#383838" text-anchor="middle">1</text>
<text transform="translate(346.30,328.40) scale(0.95,1)" font-size="4.6" fill="#383838" text-anchor="middle">2.5</text>
<text transform="translate(346.30,335.60) scale(0.95,1)" font-size="4.6" fill="#383838" text-anchor="middle">0.5</text>
<text transform="translate(355.95,328.40) scale(0.95,1)" font-size="4.6" fill="#383838" text-anchor="middle">1.25</text>
<text transform="translate(355.95,335.60) scale(0.95,1)" font-size="4.6" fill="#383838" text-anchor="middle">0.25</text>
<text transform="translate(361.80,328.40) scale(0.95,1)" font-size="4.6" fill="#383838">0.625</text>
<text transform="translate(361.80,335.60) scale(0.95,1)" font-size="4.6" fill="#383838">0.125</text>
<path d="M327.80,270.18 L328.73,270.31 L329.65,270.45 L330.57,270.60 L331.50,270.77 L332.43,270.95 L333.35,271.14 L334.28,271.35 L335.20,271.58 L336.12,271.83 L337.05,272.10 L337.98,272.40 L338.90,272.71 L339.82,273.06 L340.75,273.43 L341.68,273.84 L342.60,274.27 L343.53,274.74 L344.45,275.25 L345.38,275.79 L346.30,276.38 L347.23,277.01 L348.15,277.69 L349.07,278.42 L350.00,279.19 L350.93,280.02 L351.85,280.91 L352.78,281.85 L353.70,282.84 L354.62,283.90 L355.55,285.02 L356.48,286.20 L357.40,287.44 L358.32,288.74 L359.25,290.11 L360.18,291.53 L361.10,293.00 L362.03,294.54 L362.95,296.12 L363.88,297.75 L364.80,299.42" fill="none" stroke="#d03a34" stroke-width="0.9"/>
<path d="M327.80,267.23 V273.23 M326.80,267.23 h2 M326.80,273.23 h2" stroke="#d03a34" stroke-width="0.6" fill="none"/>
<circle cx="327.80" cy="270.23" r="1.25" fill="#7a1a22"/>
<path d="M337.05,268.81 V274.81 M336.05,268.81 h2 M336.05,274.81 h2" stroke="#d03a34" stroke-width="0.6" fill="none"/>
<circle cx="337.05" cy="271.81" r="1.25" fill="#7a1a22"/>
<path d="M346.30,272.87 V280.87 M345.30,272.87 h2 M345.30,280.87 h2" stroke="#d03a34" stroke-width="0.6" fill="none"/>
<circle cx="346.30" cy="276.87" r="1.25" fill="#7a1a22"/>
<path d="M355.55,275.70 V293.70 M354.55,275.70 h2 M354.55,293.70 h2" stroke="#d03a34" stroke-width="0.6" fill="none"/>
<circle cx="355.55" cy="284.70" r="1.25" fill="#7a1a22"/>
<path d="M364.80,295.51 V303.51 M363.80,295.51 h2 M363.80,303.51 h2" stroke="#d03a34" stroke-width="0.6" fill="none"/>
<circle cx="364.80" cy="299.51" r="1.25" fill="#7a1a22"/>
<path d="M327.80,272.37 L328.73,272.46 L329.65,272.57 L330.57,272.69 L331.50,272.84 L332.43,273.01 L333.35,273.22 L334.28,273.46 L335.20,273.74 L336.12,274.07 L337.05,274.45 L337.98,274.90 L338.90,275.41 L339.82,276.00 L340.75,276.68 L341.68,277.45 L342.60,278.33 L343.53,279.31 L344.45,280.40 L345.38,281.61 L346.30,282.92 L347.23,284.34 L348.15,285.85 L349.07,287.44 L350.00,289.09 L350.93,290.78 L351.85,292.48 L352.78,294.17 L353.70,295.83 L354.62,297.42 L355.55,298.94 L356.48,300.37 L357.40,301.69 L358.32,302.90 L359.25,304.00 L360.18,304.99 L361.10,305.87 L362.03,306.65 L362.95,307.33 L363.88,307.93 L364.80,308.45" fill="none" stroke="#48ac58" stroke-width="0.9"/>
<path d="M327.80,270.19 V276.19 M326.80,270.19 h2 M326.80,276.19 h2" stroke="#48ac58" stroke-width="0.6" fill="none"/>
<circle cx="327.80" cy="273.19" r="1.25" fill="#1e5a30"/>
<path d="M337.05,268.19 V278.19 M336.05,268.19 h2 M336.05,278.19 h2" stroke="#48ac58" stroke-width="0.6" fill="none"/>
<circle cx="337.05" cy="273.19" r="1.25" fill="#1e5a30"/>
<path d="M346.30,275.58 V291.58 M345.30,275.58 h2 M345.30,291.58 h2" stroke="#48ac58" stroke-width="0.6" fill="none"/>
<circle cx="346.30" cy="283.58" r="1.25" fill="#1e5a30"/>
<path d="M355.55,295.59 V301.59 M354.55,295.59 h2 M354.55,301.59 h2" stroke="#48ac58" stroke-width="0.6" fill="none"/>
<circle cx="355.55" cy="298.59" r="1.25" fill="#1e5a30"/>
<path d="M364.80,305.59 V311.59 M363.80,305.59 h2 M363.80,311.59 h2" stroke="#48ac58" stroke-width="0.6" fill="none"/>
<circle cx="364.80" cy="308.59" r="1.25" fill="#1e5a30"/>
<path d="M327.80,266.39 L328.73,266.41 L329.65,266.43 L330.57,266.45 L331.50,266.48 L332.43,266.51 L333.35,266.55 L334.28,266.60 L335.20,266.66 L336.12,266.74 L337.05,266.83 L337.98,266.95 L338.90,267.09 L339.82,267.26 L340.75,267.46 L341.68,267.72 L342.60,268.02 L343.53,268.39 L344.45,268.83 L345.38,269.36 L346.30,269.99 L347.23,270.73 L348.15,271.60 L349.07,272.62 L350.00,273.78 L350.93,275.09 L351.85,276.56 L352.78,278.18 L353.70,279.93 L354.62,281.78 L355.55,283.71 L356.48,285.67 L357.40,287.62 L358.32,289.52 L359.25,291.34 L360.18,293.04 L361.10,294.61 L362.03,296.02 L362.95,297.28 L363.88,298.39 L364.80,299.35" fill="none" stroke="#4777a6" stroke-width="0.9"/>
<path d="M327.80,265.19 V271.19 M326.80,265.19 h2 M326.80,271.19 h2" stroke="#4777a6" stroke-width="0.6" fill="none"/>
<circle cx="327.80" cy="268.19" r="1.25" fill="#1b2740"/>
<path d="M337.05,261.50 V267.50 M336.05,261.50 h2 M336.05,267.50 h2" stroke="#4777a6" stroke-width="0.6" fill="none"/>
<circle cx="337.05" cy="264.50" r="1.25" fill="#1b2740"/>
<path d="M346.30,266.62 V274.62 M345.30,266.62 h2 M345.30,274.62 h2" stroke="#4777a6" stroke-width="0.6" fill="none"/>
<circle cx="346.30" cy="270.62" r="1.25" fill="#1b2740"/>
<path d="M355.55,279.58 V287.58 M354.55,279.58 h2 M354.55,287.58 h2" stroke="#4777a6" stroke-width="0.6" fill="none"/>
<circle cx="355.55" cy="283.58" r="1.25" fill="#1b2740"/>
<path d="M364.80,296.38 V302.38 M363.80,296.38 h2 M363.80,302.38 h2" stroke="#4777a6" stroke-width="0.6" fill="none"/>
<circle cx="364.80" cy="299.38" r="1.25" fill="#1b2740"/>
<text transform="translate(315.30,283.00) scale(0.84,1)" font-size="5.2" fill="#2a2a2a">CI = 0.96</text>
<text transform="translate(324.70,289.70) scale(0.84,1)" font-size="5.2" fill="#2a2a2a">CI = 1.88</text>
<text transform="translate(333.20,298.70) scale(0.84,1)" font-size="5.2" fill="#2a2a2a">CI = 1.36</text>
<text transform="translate(342.20,308.40) scale(0.84,1)" font-size="5.2" fill="#2a2a2a">CI = 0.72</text>
<text transform="translate(352.90,315.10) scale(0.84,1)" font-size="5.2" fill="#2a2a2a">CI = 0.38</text>
<path d="M422.5,249.5 V317.8 H514.0" fill="none" stroke="#111" stroke-width="1.2"/>
<line x1="419.9" y1="317.80" x2="422.5" y2="317.80" stroke="#111" stroke-width="0.8"/>
<text x="416.3" y="320.15" text-anchor="end" font-size="6.5" fill="#222">0</text>
<line x1="419.9" y1="304.64" x2="422.5" y2="304.64" stroke="#111" stroke-width="0.8"/>
<text x="416.3" y="306.99" text-anchor="end" font-size="6.5" fill="#222">20</text>
<line x1="419.9" y1="291.48" x2="422.5" y2="291.48" stroke="#111" stroke-width="0.8"/>
<text x="416.3" y="293.83" text-anchor="end" font-size="6.5" fill="#222">40</text>
<line x1="419.9" y1="278.32" x2="422.5" y2="278.32" stroke="#111" stroke-width="0.8"/>
<text x="416.3" y="280.67" text-anchor="end" font-size="6.5" fill="#222">60</text>
<line x1="419.9" y1="265.16" x2="422.5" y2="265.16" stroke="#111" stroke-width="0.8"/>
<text x="416.3" y="267.51" text-anchor="end" font-size="6.5" fill="#222">80</text>
<line x1="419.9" y1="252.00" x2="422.5" y2="252.00" stroke="#111" stroke-width="0.8"/>
<text x="416.3" y="254.35" text-anchor="end" font-size="6.5" fill="#222">100</text>
<line x1="446.40" y1="317.8" x2="446.40" y2="320.7" stroke="#111" stroke-width="0.9"/>
<line x1="455.65" y1="317.8" x2="455.65" y2="320.7" stroke="#111" stroke-width="0.9"/>
<line x1="464.90" y1="317.8" x2="464.90" y2="320.7" stroke="#111" stroke-width="0.9"/>
<line x1="474.15" y1="317.8" x2="474.15" y2="320.7" stroke="#111" stroke-width="0.9"/>
<line x1="483.40" y1="317.8" x2="483.40" y2="320.7" stroke="#111" stroke-width="0.9"/>
<text transform="translate(405.20,328.40) scale(0.877,1)" font-size="5.0" fill="#383838">LY500307 (µM)</text>
<text transform="translate(405.20,335.40) scale(0.877,1)" font-size="5.0" fill="#383838">MMAE (nm)</text>
<text transform="translate(446.40,328.40) scale(0.95,1)" font-size="4.6" fill="#383838" text-anchor="middle">10</text>
<text transform="translate(446.40,335.60) scale(0.95,1)" font-size="4.6" fill="#383838" text-anchor="middle">2</text>
<text transform="translate(455.65,328.40) scale(0.95,1)" font-size="4.6" fill="#383838" text-anchor="middle">5</text>
<text transform="translate(455.65,335.60) scale(0.95,1)" font-size="4.6" fill="#383838" text-anchor="middle">1</text>
<text transform="translate(464.90,328.40) scale(0.95,1)" font-size="4.6" fill="#383838" text-anchor="middle">2.5</text>
<text transform="translate(464.90,335.60) scale(0.95,1)" font-size="4.6" fill="#383838" text-anchor="middle">0.5</text>
<text transform="translate(474.55,328.40) scale(0.95,1)" font-size="4.6" fill="#383838" text-anchor="middle">1.25</text>
<text transform="translate(474.55,335.60) scale(0.95,1)" font-size="4.6" fill="#383838" text-anchor="middle">0.25</text>
<text transform="translate(480.40,328.40) scale(0.95,1)" font-size="4.6" fill="#383838">0.625</text>
<text transform="translate(480.40,335.60) scale(0.95,1)" font-size="4.6" fill="#383838">0.125</text>
<path d="M446.40,285.14 L447.32,285.15 L448.25,285.17 L449.17,285.19 L450.10,285.21 L451.02,285.25 L451.95,285.30 L452.88,285.37 L453.80,285.46 L454.72,285.57 L455.65,285.73 L456.57,285.93 L457.50,286.20 L458.42,286.53 L459.35,286.96 L460.27,287.49 L461.20,288.13 L462.12,288.87 L463.05,289.71 L463.97,290.63 L464.90,291.58 L465.82,292.53 L466.75,293.44 L467.67,294.26 L468.60,294.99 L469.52,295.61 L470.45,296.12 L471.38,296.52 L472.30,296.85 L473.22,297.10 L474.15,297.29 L475.07,297.44 L476.00,297.55 L476.92,297.64 L477.85,297.70 L478.77,297.75 L479.70,297.78 L480.62,297.81 L481.55,297.83 L482.47,297.84 L483.40,297.85" fill="none" stroke="#d03a34" stroke-width="0.9"/>
<path d="M446.40,281.90 V287.90 M445.40,281.90 h2 M445.40,287.90 h2" stroke="#d03a34" stroke-width="0.6" fill="none"/>
<circle cx="446.40" cy="284.90" r="1.25" fill="#7a1a22"/>
<path d="M455.65,283.02 V289.02 M454.65,283.02 h2 M454.65,289.02 h2" stroke="#d03a34" stroke-width="0.6" fill="none"/>
<circle cx="455.65" cy="286.02" r="1.25" fill="#7a1a22"/>
<path d="M464.90,288.48 V294.48 M463.90,288.48 h2 M463.90,294.48 h2" stroke="#d03a34" stroke-width="0.6" fill="none"/>
<circle cx="464.90" cy="291.48" r="1.25" fill="#7a1a22"/>
<path d="M474.15,294.60 V300.60 M473.15,294.60 h2 M473.15,300.60 h2" stroke="#d03a34" stroke-width="0.6" fill="none"/>
<circle cx="474.15" cy="297.60" r="1.25" fill="#7a1a22"/>
<path d="M483.40,294.60 V300.60 M482.40,294.60 h2 M482.40,300.60 h2" stroke="#d03a34" stroke-width="0.6" fill="none"/>
<circle cx="483.40" cy="297.60" r="1.25" fill="#7a1a22"/>
<path d="M446.40,279.99 L447.32,279.99 L448.25,279.99 L449.17,279.99 L450.10,279.99 L451.02,279.99 L451.95,279.99 L452.88,279.99 L453.80,279.99 L454.72,280.00 L455.65,280.00 L456.57,280.02 L457.50,280.04 L458.42,280.08 L459.35,280.16 L460.27,280.29 L461.20,280.53 L462.12,280.95 L463.05,281.64 L463.97,282.72 L464.90,284.26 L465.82,286.16 L466.75,288.16 L467.67,289.93 L468.60,291.27 L469.52,292.17 L470.45,292.73 L471.38,293.06 L472.30,293.25 L473.22,293.36 L474.15,293.41 L475.07,293.45 L476.00,293.46 L476.92,293.47 L477.85,293.48 L478.77,293.48 L479.70,293.48 L480.62,293.48 L481.55,293.49 L482.47,293.49 L483.40,293.49" fill="none" stroke="#48ac58" stroke-width="0.9"/>
<path d="M446.40,277.62 V283.62 M445.40,277.62 h2 M445.40,283.62 h2" stroke="#48ac58" stroke-width="0.6" fill="none"/>
<circle cx="446.40" cy="280.62" r="1.25" fill="#1e5a30"/>
<path d="M455.65,276.37 V282.37 M454.65,276.37 h2 M454.65,282.37 h2" stroke="#48ac58" stroke-width="0.6" fill="none"/>
<circle cx="455.65" cy="279.37" r="1.25" fill="#1e5a30"/>
<path d="M464.90,280.24 V288.24 M463.90,280.24 h2 M463.90,288.24 h2" stroke="#48ac58" stroke-width="0.6" fill="none"/>
<circle cx="464.90" cy="284.24" r="1.25" fill="#1e5a30"/>
<path d="M474.15,291.11 V297.11 M473.15,291.11 h2 M473.15,297.11 h2" stroke="#48ac58" stroke-width="0.6" fill="none"/>
<circle cx="474.15" cy="294.11" r="1.25" fill="#1e5a30"/>
<path d="M483.40,289.80 V295.80 M482.40,289.80 h2 M482.40,295.80 h2" stroke="#48ac58" stroke-width="0.6" fill="none"/>
<circle cx="483.40" cy="292.80" r="1.25" fill="#1e5a30"/>
<path d="M446.40,263.53 L447.32,263.54 L448.25,263.55 L449.17,263.56 L450.10,263.58 L451.02,263.60 L451.95,263.63 L452.88,263.66 L453.80,263.70 L454.72,263.76 L455.65,263.82 L456.57,263.91 L457.50,264.01 L458.42,264.15 L459.35,264.32 L460.27,264.53 L461.20,264.79 L462.12,265.12 L463.05,265.52 L463.97,266.02 L464.90,266.62 L465.82,267.35 L466.75,268.23 L467.67,269.26 L468.60,270.45 L469.52,271.81 L470.45,273.33 L471.38,274.98 L472.30,276.73 L473.22,278.55 L474.15,280.37 L475.07,282.15 L476.00,283.85 L476.92,285.42 L477.85,286.85 L478.77,288.11 L479.70,289.20 L480.62,290.14 L481.55,290.92 L482.47,291.58 L483.40,292.12" fill="none" stroke="#4777a6" stroke-width="0.9"/>
<path d="M446.40,259.53 V270.53 M445.40,259.53 h2 M445.40,270.53 h2" stroke="#4777a6" stroke-width="0.6" fill="none"/>
<circle cx="446.40" cy="265.03" r="1.25" fill="#1b2740"/>
<path d="M455.65,258.00 V266.00 M454.65,258.00 h2 M454.65,266.00 h2" stroke="#4777a6" stroke-width="0.6" fill="none"/>
<circle cx="455.65" cy="262.00" r="1.25" fill="#1b2740"/>
<path d="M464.90,263.00 V271.00 M463.90,263.00 h2 M463.90,271.00 h2" stroke="#4777a6" stroke-width="0.6" fill="none"/>
<circle cx="464.90" cy="267.00" r="1.25" fill="#1b2740"/>
<path d="M474.15,277.29 V283.29 M473.15,277.29 h2 M473.15,283.29 h2" stroke="#4777a6" stroke-width="0.6" fill="none"/>
<circle cx="474.15" cy="280.29" r="1.25" fill="#1b2740"/>
<path d="M483.40,289.14 V295.14 M482.40,289.14 h2 M482.40,295.14 h2" stroke="#4777a6" stroke-width="0.6" fill="none"/>
<circle cx="483.40" cy="292.14" r="1.25" fill="#1b2740"/>
<text transform="translate(431.60,276.00) scale(0.84,1)" font-size="5.2" fill="#2a2a2a">CI = 1.87</text>
<text transform="translate(450.40,276.00) scale(0.84,1)" font-size="5.2" fill="#2a2a2a">CI = 5.69</text>
<text transform="translate(457.90,279.40) scale(0.84,1)" font-size="5.2" fill="#2a2a2a">CI = 4.98</text>
<text transform="translate(466.70,291.70) scale(0.84,1)" font-size="5.2" fill="#2a2a2a">CI = 1.53</text>
<text transform="translate(486.10,297.50) scale(0.84,1)" font-size="5.2" fill="#2a2a2a">CI = 2.62</text>
<line x1="62.8" y1="88.8" x2="67.6" y2="88.8" stroke="#4777a6" stroke-width="0.6"/>
<circle cx="65.2" cy="88.8" r="1.1" fill="#1b2740"/>
<text x="71.5" y="91.0" font-size="6.5" fill="#222">LY500307</text>
<line x1="62.8" y1="95.39999999999999" x2="67.6" y2="95.39999999999999" stroke="#e8b030" stroke-width="0.6"/>
<circle cx="65.2" cy="95.39999999999999" r="1.1" fill="#e0a020"/>
<text x="71.5" y="97.6" font-size="6.5" fill="#222">Chemotherapeutic agent</text>
<line x1="62.8" y1="101.39999999999999" x2="67.6" y2="101.39999999999999" stroke="#48ac58" stroke-width="0.6"/>
<circle cx="65.2" cy="101.39999999999999" r="1.1" fill="#1e5a30"/>
<text x="71.5" y="103.6" font-size="6.5" fill="#222">Combination</text>
<text x="17.5" y="12.6" text-anchor="middle" font-size="8.5" fill="#222">Cell</text>
<text x="17.5" y="23" text-anchor="middle" font-size="8.5" fill="#222">Line</text>
<text x="95.2" y="17.8" text-anchor="middle" font-size="8.6" fill="#222">HUT</text>
<text x="218" y="17.8" text-anchor="middle" font-size="8.6" fill="#222">MyLa</text>
<text x="339" y="17.8" text-anchor="middle" font-size="8.6" fill="#222">SeAx</text>
<text x="459" y="17.8" text-anchor="middle" font-size="8.6" fill="#222">HH</text>
<text transform="translate(30.5,71.6) rotate(-90)" text-anchor="middle" font-size="8.5" fill="#222">Gemcitabine</text>
<text transform="translate(30.5,178.2) rotate(-90)" text-anchor="middle" font-size="8.5" fill="#222">Doxorubicin</text>
<text transform="translate(30.5,282.9) rotate(-90)" text-anchor="middle" font-size="8.9" fill="#222">MMAE</text>
<text transform="translate(11.2,172.9) rotate(-90)" text-anchor="middle" font-size="6.5" fill="#2a2a2a">Inhibition (LY500307 + Chemotherapeutic agent)</text>
<path d="M0.5,0 V346 M519.5,0 V346 M0,0.5 H520 M0,345.5 H520 M0,29.5 H520 M17.5,29.5 V346 M34.5,0 V346 M156.5,0 V346 M279.8,0 V346 M398.5,0 V346 M34.5,133.0 H520 M34.5,239.4 H520" stroke="#333338" stroke-width="1.2" fill="none"/>
</svg>
</body></html>
